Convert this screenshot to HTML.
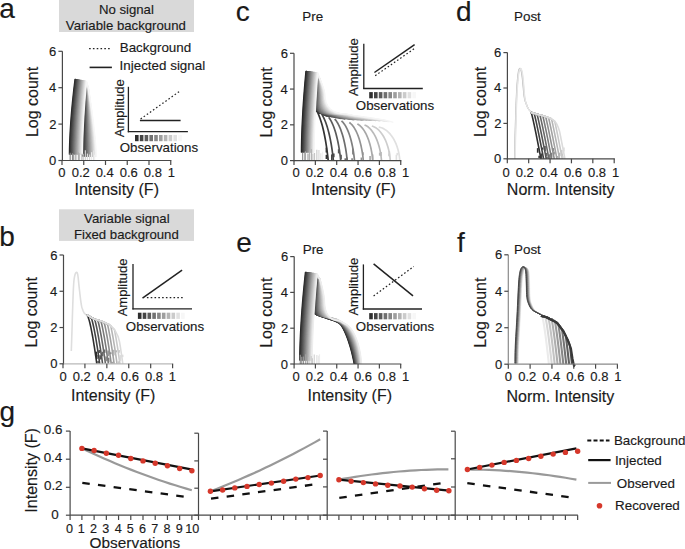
<!DOCTYPE html><html><head><meta charset="utf-8"><style>html,body{margin:0;padding:0;background:#fff;overflow:hidden}svg{display:block}</style></head><body><svg width="685" height="549" viewBox="0 0 685 549" font-family='"Liberation Sans", sans-serif'>
<rect width="685" height="549" fill="#fff"/>
<style>text{stroke:#1a1a1a;stroke-width:0.15px;paint-order:stroke}</style>
<text x="-0.72" y="18.00" font-size="28" text-anchor="start" fill="#1a1a1a">a</text>
<text x="-0.72" y="245.80" font-size="28" text-anchor="start" fill="#1a1a1a">b</text>
<text x="235.68" y="20.70" font-size="28" text-anchor="start" fill="#1a1a1a">c</text>
<text x="455.98" y="20.60" font-size="28" text-anchor="start" fill="#1a1a1a">d</text>
<text x="236.28" y="251.60" font-size="28" text-anchor="start" fill="#1a1a1a">e</text>
<text x="456.98" y="251.90" font-size="28" text-anchor="start" fill="#1a1a1a">f</text>
<text x="-0.42" y="420.80" font-size="28" text-anchor="start" fill="#1a1a1a">g</text>
<rect x="59" y="0" width="135" height="32" fill="#d9d9d9"/>
<text x="98.91" y="13.60" font-size="13.2" text-anchor="start" fill="#1a1a1a">No signal</text>
<text x="65.84" y="29.60" font-size="13.2" text-anchor="start" fill="#1a1a1a">Variable background</text>
<polyline points="69.40,154.50 69.46,149.14 69.60,143.77 69.81,138.41 70.07,133.04 70.37,127.68 70.73,122.31 71.12,116.95 71.56,111.59 72.04,106.22 72.56,100.86 73.12,95.49 73.71,90.13 74.34,84.76 75.00,79.40 86.20,87.14 85.80,92.47 85.43,97.81 85.06,103.14 84.71,108.48 84.37,113.81 84.05,119.15 83.75,124.49 83.47,129.82 83.21,135.16 82.97,140.49 82.77,145.83 82.60,151.16 82.50,156.50" fill="none" stroke="rgb(38,38,38)" stroke-width="1.3" stroke-linejoin="round"/>
<polyline points="69.92,154.50 69.99,149.14 70.13,143.78 70.33,138.42 70.58,133.07 70.89,127.71 71.24,122.35 71.63,116.99 72.06,111.63 72.54,106.27 73.05,100.91 73.60,95.56 74.19,90.20 74.81,84.84 75.46,79.48 86.29,87.17 85.94,92.51 85.61,97.84 85.29,103.18 84.99,108.51 84.69,113.85 84.41,119.18 84.15,124.51 83.90,129.85 83.68,135.18 83.47,140.52 83.29,145.85 83.15,151.19 83.06,156.52" fill="none" stroke="rgb(47,47,47)" stroke-width="1.3" stroke-linejoin="round"/>
<polyline points="70.45,154.50 70.51,149.15 70.65,143.79 70.85,138.44 71.10,133.09 71.40,127.74 71.75,122.38 72.13,117.03 72.56,111.68 73.03,106.32 73.54,100.97 74.08,95.62 74.66,90.27 75.28,84.91 75.93,79.56 86.38,87.21 86.08,92.55 85.80,97.88 85.53,103.21 85.26,108.54 85.01,113.88 84.77,119.21 84.55,124.54 84.34,129.88 84.14,135.21 83.97,140.54 83.81,145.87 83.69,151.21 83.61,156.54" fill="none" stroke="rgb(55,55,55)" stroke-width="1.3" stroke-linejoin="round"/>
<polyline points="70.97,154.50 71.03,149.15 71.17,143.81 71.37,138.46 71.62,133.11 71.91,127.76 72.26,122.42 72.64,117.07 73.07,111.72 73.53,106.38 74.03,101.03 74.57,95.68 75.14,90.33 75.75,84.99 76.39,79.64 86.47,87.25 86.22,92.58 85.99,97.91 85.76,103.25 85.54,108.58 85.33,113.91 85.14,119.24 84.95,124.57 84.77,129.90 84.61,135.23 84.46,140.57 84.34,145.90 84.23,151.23 84.17,156.56" fill="none" stroke="rgb(63,63,63)" stroke-width="1.3" stroke-linejoin="round"/>
<polyline points="71.50,154.50 71.56,149.16 71.69,143.82 71.89,138.48 72.13,133.13 72.43,127.79 72.77,122.45 73.15,117.11 73.57,111.77 74.03,106.43 74.52,101.09 75.05,95.74 75.62,90.40 76.22,85.06 76.86,79.72 86.56,87.29 86.36,92.62 86.18,97.95 86.00,103.28 85.82,108.61 85.65,113.94 85.50,119.27 85.35,124.60 85.21,129.93 85.08,135.26 84.96,140.59 84.86,145.92 84.77,151.25 84.72,156.58" fill="none" stroke="rgb(72,72,72)" stroke-width="1.3" stroke-linejoin="round"/>
<polyline points="72.02,154.50 72.08,149.16 72.21,143.83 72.41,138.49 72.65,133.16 72.94,127.82 73.28,122.49 73.65,117.15 74.07,111.81 74.52,106.48 75.01,101.14 75.54,95.81 76.10,90.47 76.69,85.14 77.32,79.80 86.65,87.33 86.50,92.66 86.36,97.99 86.23,103.31 86.10,108.64 85.97,113.97 85.86,119.30 85.74,124.63 85.64,129.96 85.54,135.29 85.46,140.61 85.38,145.94 85.32,151.27 85.28,156.60" fill="none" stroke="rgb(80,80,80)" stroke-width="1.3" stroke-linejoin="round"/>
<polyline points="72.54,154.50 72.60,149.17 72.74,143.84 72.93,138.51 73.17,133.18 73.45,127.85 73.78,122.52 74.16,117.19 74.57,111.86 75.02,106.53 75.50,101.20 76.02,95.87 76.58,90.54 77.16,85.21 77.78,79.88 86.74,87.37 86.65,92.69 86.55,98.02 86.46,103.35 86.38,108.68 86.29,114.00 86.22,119.33 86.14,124.66 86.07,129.98 86.01,135.31 85.95,140.64 85.90,145.97 85.86,151.29 85.84,156.62" fill="none" stroke="rgb(88,88,88)" stroke-width="1.3" stroke-linejoin="round"/>
<polyline points="73.07,154.50 73.13,149.18 73.26,143.85 73.45,138.53 73.68,133.20 73.97,127.88 74.29,122.55 74.66,117.23 75.07,111.91 75.51,106.58 75.99,101.26 76.51,95.93 77.05,90.61 77.63,85.28 78.25,79.96 86.83,87.41 86.79,92.73 86.74,98.06 86.70,103.38 86.65,108.71 86.61,114.03 86.58,119.36 86.54,124.69 86.51,130.01 86.48,135.34 86.45,140.66 86.42,145.99 86.40,151.31 86.39,156.64" fill="none" stroke="rgb(97,97,97)" stroke-width="1.3" stroke-linejoin="round"/>
<polyline points="73.59,154.50 73.65,149.18 73.78,143.86 73.97,138.54 74.20,133.23 74.48,127.91 74.80,122.59 75.17,117.27 75.57,111.95 76.01,106.63 76.48,101.31 76.99,96.00 77.53,90.68 78.11,85.36 78.71,80.04 86.92,87.44 86.93,92.77 86.93,98.09 86.93,103.42 86.93,108.74 86.94,114.07 86.94,119.39 86.94,124.71 86.94,130.04 86.94,135.36 86.94,140.69 86.95,146.01 86.95,151.34 86.95,156.66" fill="none" stroke="rgb(105,105,105)" stroke-width="1.3" stroke-linejoin="round"/>
<polyline points="74.12,154.50 74.17,149.19 74.30,143.87 74.48,138.56 74.72,133.25 74.99,127.94 75.31,122.62 75.67,117.31 76.07,112.00 76.50,106.68 76.97,101.37 77.47,96.06 78.01,90.75 78.58,85.43 79.18,80.12 87.01,87.48 87.07,92.81 87.12,98.13 87.16,103.45 87.21,108.77 87.26,114.10 87.30,119.42 87.34,124.74 87.38,130.07 87.41,135.39 87.44,140.71 87.47,146.03 87.49,151.36 87.50,156.68" fill="none" stroke="rgb(114,114,114)" stroke-width="1.3" stroke-linejoin="round"/>
<polyline points="74.64,154.50 74.70,149.19 74.82,143.89 75.00,138.58 75.23,133.27 75.51,127.96 75.82,122.66 76.18,117.35 76.57,112.04 77.00,106.74 77.46,101.43 77.96,96.12 78.49,90.81 79.05,85.51 79.64,80.20 87.10,87.52 87.21,92.84 87.30,98.16 87.40,103.49 87.49,108.81 87.58,114.13 87.66,119.45 87.74,124.77 87.81,130.09 87.88,135.41 87.94,140.74 87.99,146.06 88.03,151.38 88.06,156.70" fill="none" stroke="rgb(122,122,122)" stroke-width="1.3" stroke-linejoin="round"/>
<polyline points="75.16,154.50 75.22,149.20 75.34,143.90 75.52,138.60 75.75,133.29 76.02,127.99 76.33,122.69 76.68,117.39 77.07,112.09 77.49,106.79 77.95,101.49 78.44,96.18 78.97,90.88 79.52,85.58 80.10,80.28 87.20,87.56 87.35,92.88 87.49,98.20 87.63,103.52 87.77,108.84 87.90,114.16 88.02,119.48 88.13,124.80 88.24,130.12 88.34,135.44 88.43,140.76 88.51,146.08 88.58,151.40 88.62,156.72" fill="none" stroke="rgb(130,130,130)" stroke-width="1.3" stroke-linejoin="round"/>
<polyline points="75.69,154.50 75.74,149.20 75.87,143.91 76.04,138.61 76.27,133.32 76.54,128.02 76.84,122.73 77.19,117.43 77.57,112.13 77.99,106.84 78.44,101.54 78.93,96.25 79.44,90.95 79.99,85.66 80.57,80.36 87.29,87.60 87.49,92.92 87.68,98.24 87.87,103.55 88.05,108.87 88.22,114.19 88.38,119.51 88.53,124.83 88.68,130.15 88.81,135.47 88.93,140.78 89.03,146.10 89.12,151.42 89.17,156.74" fill="none" stroke="rgb(139,139,139)" stroke-width="1.3" stroke-linejoin="round"/>
<polyline points="76.21,154.50 76.27,149.21 76.39,143.92 76.56,138.63 76.78,133.34 77.05,128.05 77.35,122.76 77.70,117.47 78.07,112.18 78.49,106.89 78.93,101.60 79.41,96.31 79.92,91.02 80.46,85.73 81.03,80.44 87.38,87.64 87.63,92.95 87.87,98.27 88.10,103.59 88.32,108.91 88.54,114.22 88.74,119.54 88.93,124.86 89.11,130.17 89.28,135.49 89.43,140.81 89.56,146.13 89.66,151.44 89.73,156.76" fill="none" stroke="rgb(147,147,147)" stroke-width="1.3" stroke-linejoin="round"/>
<polyline points="76.74,154.50 76.79,149.22 76.91,143.93 77.08,138.65 77.30,133.36 77.56,128.08 77.86,122.79 78.20,117.51 78.57,112.23 78.98,106.94 79.42,101.66 79.90,96.37 80.40,91.09 80.93,85.80 81.50,80.52 87.47,87.68 87.77,92.99 88.06,98.31 88.33,103.62 88.60,108.94 88.86,114.25 89.10,119.57 89.33,124.89 89.54,130.20 89.74,135.52 89.92,140.83 90.08,146.15 90.21,151.46 90.28,156.78" fill="none" stroke="rgb(155,155,155)" stroke-width="1.3" stroke-linejoin="round"/>
<polyline points="77.26,154.50 77.31,149.22 77.43,143.94 77.60,138.66 77.82,133.39 78.08,128.11 78.37,122.83 78.71,117.55 79.08,112.27 79.48,106.99 79.91,101.71 80.38,96.44 80.88,91.16 81.40,85.88 81.96,80.60 87.56,87.71 87.91,93.03 88.24,98.34 88.57,103.66 88.88,108.97 89.18,114.29 89.46,119.60 89.73,124.91 89.98,130.23 90.21,135.54 90.42,140.86 90.60,146.17 90.75,151.49 90.84,156.80" fill="none" stroke="rgb(164,164,164)" stroke-width="1.3" stroke-linejoin="round"/>
<polyline points="77.78,154.50 77.84,149.23 77.95,143.95 78.12,138.68 78.34,133.41 78.59,128.14 78.88,122.86 79.21,117.59 79.58,112.32 79.97,107.04 80.40,101.77 80.86,96.50 81.35,91.23 81.87,85.95 82.42,80.68 87.65,87.75 88.05,93.07 88.43,98.38 88.80,103.69 89.16,109.00 89.50,114.32 89.82,119.63 90.13,124.94 90.41,130.26 90.68,135.57 90.92,140.88 91.12,146.19 91.29,151.51 91.40,156.82" fill="none" stroke="rgb(172,172,172)" stroke-width="1.3" stroke-linejoin="round"/>
<polyline points="78.31,154.50 78.36,149.23 78.48,143.97 78.64,138.70 78.85,133.43 79.10,128.16 79.39,122.90 79.72,117.63 80.08,112.36 80.47,107.10 80.89,101.83 81.35,96.56 81.83,91.29 82.35,86.03 82.89,80.76 87.74,87.79 88.19,93.10 88.62,98.41 89.04,103.73 89.44,109.04 89.82,114.35 90.18,119.66 90.53,124.97 90.85,130.28 91.14,135.59 91.41,140.91 91.65,146.22 91.84,151.53 91.95,156.84" fill="none" stroke="rgb(180,180,180)" stroke-width="1.3" stroke-linejoin="round"/>
<polyline points="78.83,154.50 78.88,149.24 79.00,143.98 79.16,138.72 79.37,133.45 79.62,128.19 79.90,122.93 80.22,117.67 80.58,112.41 80.96,107.15 81.38,101.89 81.83,96.62 82.31,91.36 82.82,86.10 83.35,80.84 87.83,87.83 88.33,93.14 88.81,98.45 89.27,103.76 89.71,109.07 90.14,114.38 90.54,119.69 90.92,125.00 91.28,130.31 91.61,135.62 91.91,140.93 92.17,146.24 92.38,151.55 92.51,156.86" fill="none" stroke="rgb(189,189,189)" stroke-width="1.3" stroke-linejoin="round"/>
<polyline points="79.36,154.50 79.41,149.24 79.52,143.99 79.68,138.73 79.89,133.48 80.13,128.22 80.41,122.97 80.73,117.71 81.08,112.45 81.46,107.20 81.87,101.94 82.32,96.69 82.79,91.43 83.29,86.18 83.82,80.92 87.92,87.87 88.47,93.18 88.99,98.49 89.50,103.79 89.99,109.10 90.46,114.41 90.90,119.72 91.32,125.03 91.71,130.34 92.08,135.65 92.40,140.95 92.69,146.26 92.92,151.57 93.06,156.88" fill="none" stroke="rgb(197,197,197)" stroke-width="1.3" stroke-linejoin="round"/>
<polyline points="79.88,154.50 79.93,149.25 80.04,144.00 80.20,138.75 80.40,133.50 80.64,128.25 80.92,123.00 81.23,117.75 81.58,112.50 81.96,107.25 82.36,102.00 82.80,96.75 83.27,91.50 83.76,86.25 84.28,81.00 88.01,87.91 88.61,93.21 89.18,98.52 89.74,103.83 90.27,109.14 90.78,114.44 91.26,119.75 91.72,125.06 92.15,130.36 92.54,135.67 92.90,140.98 93.21,146.29 93.47,151.59 93.62,156.90" fill="none" stroke="rgb(206,206,206)" stroke-width="1.3" stroke-linejoin="round"/>
<polyline points="80.40,154.50 80.45,149.26 80.56,144.01 80.72,138.77 80.92,133.52 81.16,128.28 81.43,123.03 81.74,117.79 82.08,112.55 82.45,107.30 82.85,102.06 83.28,96.81 83.74,91.57 84.23,86.32 84.74,81.08 88.10,87.95 88.75,93.25 89.37,98.56 89.97,103.86 90.55,109.17 91.10,114.47 91.62,119.78 92.12,125.09 92.58,130.39 93.01,135.70 93.40,141.00 93.73,146.31 94.01,151.61 94.18,156.92" fill="none" stroke="rgb(214,214,214)" stroke-width="1.3" stroke-linejoin="round"/>
<polyline points="80.93,154.50 80.98,149.26 81.08,144.02 81.24,138.78 81.44,133.55 81.67,128.31 81.94,123.07 82.25,117.83 82.58,112.59 82.95,107.35 83.34,102.11 83.77,96.88 84.22,91.64 84.70,86.40 85.21,81.16 88.19,87.98 88.89,93.29 89.56,98.59 90.20,103.90 90.83,109.20 91.42,114.51 91.98,119.81 92.52,125.11 93.02,130.42 93.48,135.72 93.89,141.03 94.26,146.33 94.55,151.64 94.73,156.94" fill="none" stroke="rgb(222,222,222)" stroke-width="1.3" stroke-linejoin="round"/>
<polyline points="81.45,154.50 81.50,149.27 81.61,144.03 81.76,138.80 81.95,133.57 82.19,128.34 82.45,123.10 82.75,117.87 83.08,112.64 83.44,107.40 83.83,102.17 84.25,96.94 84.70,91.71 85.17,86.47 85.67,81.24 88.29,88.02 89.03,93.33 89.75,98.63 90.44,103.93 91.10,109.23 91.74,114.54 92.34,119.84 92.92,125.14 93.45,130.45 93.94,135.75 94.39,141.05 94.78,146.35 95.09,151.66 95.29,156.96" fill="none" stroke="rgb(231,231,231)" stroke-width="1.3" stroke-linejoin="round"/>
<polyline points="81.98,154.50 82.02,149.27 82.13,144.05 82.28,138.82 82.47,133.59 82.70,128.36 82.96,123.14 83.26,117.91 83.58,112.68 83.94,107.46 84.32,102.23 84.74,97.00 85.18,91.77 85.64,86.55 86.14,81.32 88.38,88.06 89.17,93.36 89.93,98.66 90.67,103.97 91.38,109.27 92.06,114.57 92.70,119.87 93.31,125.17 93.88,130.47 94.41,135.77 94.89,141.08 95.30,146.38 95.64,151.68 95.84,156.98" fill="none" stroke="rgb(239,239,239)" stroke-width="1.3" stroke-linejoin="round"/>
<polyline points="82.50,154.50 82.55,149.28 82.65,144.06 82.80,138.84 82.99,133.61 83.21,128.39 83.47,123.17 83.76,117.95 84.08,112.73 84.43,107.51 84.81,102.29 85.22,97.06 85.65,91.84 86.11,86.62 86.60,81.40 88.47,88.10 89.31,93.40 90.12,98.70 90.91,104.00 91.66,109.30 92.38,114.60 93.07,119.90 93.71,125.20 94.32,130.50 94.88,135.80 95.38,141.10 95.82,146.40 96.18,151.70 96.40,157.00" fill="none" stroke="rgb(247,247,247)" stroke-width="1.3" stroke-linejoin="round"/>
<line x1="70.19" y1="152.72" x2="70.19" y2="160.50" stroke="rgb(140,140,140)" stroke-width="1.2"/>
<line x1="72.51" y1="153.13" x2="72.51" y2="160.50" stroke="rgb(140,140,140)" stroke-width="1.2"/>
<line x1="73.69" y1="154.19" x2="73.69" y2="160.50" stroke="rgb(151,151,151)" stroke-width="1.2"/>
<line x1="75.84" y1="154.98" x2="75.84" y2="160.50" stroke="rgb(163,163,163)" stroke-width="1.2"/>
<line x1="78.44" y1="152.38" x2="78.44" y2="160.50" stroke="rgb(174,174,174)" stroke-width="1.2"/>
<line x1="79.50" y1="153.17" x2="79.50" y2="160.50" stroke="rgb(187,187,187)" stroke-width="1.2"/>
<line x1="81.84" y1="153.71" x2="81.84" y2="160.50" stroke="rgb(191,191,191)" stroke-width="1.2"/>
<line x1="83.17" y1="153.79" x2="83.17" y2="160.50" stroke="rgb(197,197,197)" stroke-width="1.2"/>
<line x1="85.34" y1="150.16" x2="85.34" y2="160.50" stroke="rgb(210,210,210)" stroke-width="1.2"/>
<line x1="87.43" y1="153.59" x2="87.43" y2="160.50" stroke="rgb(219,219,219)" stroke-width="1.2"/>
<line x1="89.60" y1="154.61" x2="89.60" y2="160.50" stroke="rgb(217,217,217)" stroke-width="1.2"/>
<line x1="91.59" y1="152.22" x2="91.59" y2="160.50" stroke="rgb(235,235,235)" stroke-width="1.2"/>
<line x1="93.57" y1="150.49" x2="93.57" y2="160.50" stroke="rgb(227,227,227)" stroke-width="1.2"/>
<line x1="94.66" y1="154.83" x2="94.66" y2="160.50" stroke="rgb(241,241,241)" stroke-width="1.2"/>
<line x1="62.40" y1="51.30" x2="62.40" y2="161.10" stroke="#484848" stroke-width="1.2"/>
<line x1="62.40" y1="160.50" x2="171.35" y2="160.50" stroke="#484848" stroke-width="1.2"/>
<line x1="58.40" y1="51.30" x2="62.40" y2="51.30" stroke="#484848" stroke-width="1.2"/>
<text x="49.10" y="55.85" font-size="13" text-anchor="start" fill="#1a1a1a">6</text>
<line x1="58.40" y1="87.70" x2="62.40" y2="87.70" stroke="#484848" stroke-width="1.2"/>
<text x="48.97" y="92.18" font-size="13" text-anchor="start" fill="#1a1a1a">4</text>
<line x1="58.40" y1="124.10" x2="62.40" y2="124.10" stroke="#484848" stroke-width="1.2"/>
<text x="49.23" y="128.65" font-size="13" text-anchor="start" fill="#1a1a1a">2</text>
<line x1="58.40" y1="160.50" x2="62.40" y2="160.50" stroke="#484848" stroke-width="1.2"/>
<text x="49.04" y="165.05" font-size="13" text-anchor="start" fill="#1a1a1a">0</text>
<line x1="62.00" y1="160.50" x2="62.00" y2="165.00" stroke="#484848" stroke-width="1.2"/>
<line x1="83.75" y1="160.50" x2="83.75" y2="165.00" stroke="#484848" stroke-width="1.2"/>
<line x1="105.50" y1="160.50" x2="105.50" y2="165.00" stroke="#484848" stroke-width="1.2"/>
<line x1="127.25" y1="160.50" x2="127.25" y2="165.00" stroke="#484848" stroke-width="1.2"/>
<line x1="149.00" y1="160.50" x2="149.00" y2="165.00" stroke="#484848" stroke-width="1.2"/>
<line x1="170.75" y1="160.50" x2="170.75" y2="165.00" stroke="#484848" stroke-width="1.2"/>
<text x="58.36" y="177.00" font-size="13" text-anchor="start" fill="#1a1a1a">0</text>
<text x="71.69" y="177.00" font-size="13" text-anchor="start" fill="#1a1a1a">0.2</text>
<text x="95.65" y="177.00" font-size="13" text-anchor="start" fill="#1a1a1a">0.4</text>
<text x="119.79" y="177.00" font-size="13" text-anchor="start" fill="#1a1a1a">0.6</text>
<text x="143.87" y="177.00" font-size="13" text-anchor="start" fill="#1a1a1a">0.8</text>
<text x="167.78" y="177.00" font-size="13" text-anchor="start" fill="#1a1a1a">1</text>
<text x="74.51" y="195.00" font-size="16" text-anchor="start" fill="#1a1a1a">Intensity (F)</text>
<text x="0" y="0" font-size="16" fill="#1a1a1a" transform="translate(37.90 137.12) rotate(-90)">Log count</text>
<line x1="89.10" y1="48.70" x2="110.70" y2="48.70" stroke="#222" stroke-width="1.2" stroke-dasharray="1.6 2.2"/>
<line x1="89.60" y1="67.40" x2="111.90" y2="67.40" stroke="#222" stroke-width="1.6"/>
<text x="119.73" y="52.00" font-size="13.4" text-anchor="start" fill="#1a1a1a">Background</text>
<text x="119.59" y="69.70" font-size="13.4" text-anchor="start" fill="#1a1a1a">Injected signal</text>
<line x1="128.40" y1="86.80" x2="128.40" y2="132.30" stroke="#222" stroke-width="1.3"/>
<line x1="127.80" y1="131.70" x2="187.90" y2="131.70" stroke="#222" stroke-width="1.3"/>
<line x1="139.90" y1="120.50" x2="180.60" y2="120.50" stroke="#222" stroke-width="1.5"/>
<line x1="140.60" y1="119.00" x2="179.20" y2="91.60" stroke="#222" stroke-width="1.2" stroke-dasharray="1.6 2.2"/>
<rect x="135.00" y="135.00" width="3.6" height="6.2" fill="rgb(46,46,46)"/>
<rect x="139.80" y="135.00" width="3.6" height="6.2" fill="rgb(68,68,68)"/>
<rect x="144.60" y="135.00" width="3.6" height="6.2" fill="rgb(91,91,91)"/>
<rect x="149.40" y="135.00" width="3.6" height="6.2" fill="rgb(113,113,113)"/>
<rect x="154.20" y="135.00" width="3.6" height="6.2" fill="rgb(135,135,135)"/>
<rect x="159.00" y="135.00" width="3.6" height="6.2" fill="rgb(158,158,158)"/>
<rect x="163.80" y="135.00" width="3.6" height="6.2" fill="rgb(180,180,180)"/>
<rect x="168.60" y="135.00" width="3.6" height="6.2" fill="rgb(203,203,203)"/>
<rect x="173.40" y="135.00" width="3.6" height="6.2" fill="rgb(225,225,225)"/>
<rect x="178.20" y="135.00" width="3.6" height="6.2" fill="rgb(247,247,247)"/>
<text x="119.70" y="152.30" font-size="13.3" text-anchor="start" fill="#1a1a1a">Observations</text>
<text x="0" y="0" font-size="13" fill="#1a1a1a" transform="translate(124.00 137.20) rotate(-90)">Amplitude</text>
<rect x="59" y="209.3" width="135" height="31.6" fill="#d9d9d9"/>
<text x="84.09" y="223.30" font-size="13.2" text-anchor="start" fill="#1a1a1a">Variable signal</text>
<text x="73.93" y="238.60" font-size="13.2" text-anchor="start" fill="#1a1a1a">Fixed background</text>
<polyline points="71.30,351.00 71.38,348.70 71.49,345.52 71.61,341.75 71.75,337.70 71.88,333.69 72.00,330.00 72.10,326.67 72.19,323.44 72.28,320.25 72.37,317.00 72.48,313.61 72.60,310.00 72.74,305.94 72.90,301.46 73.06,296.84 73.24,292.37 73.42,288.33 73.60,285.00 73.78,282.45 73.97,280.45 74.16,278.88 74.36,277.62 74.57,276.53 74.80,275.50 75.05,274.55 75.31,273.78 75.59,273.19 75.87,272.77 76.14,272.51 76.40,272.40 76.64,272.37 76.88,272.43 77.11,272.65 77.33,273.10 77.56,273.86 77.80,275.00 78.04,276.62 78.28,278.69 78.52,281.06 78.77,283.60 79.03,286.20 79.30,288.70 79.60,291.27 79.91,294.03 80.24,296.83 80.57,299.53 80.90,301.97 81.20,304.00 81.48,305.57 81.75,306.79 82.01,307.74 82.26,308.54 82.53,309.26 82.80,310.00 83.08,310.73 83.36,311.37 83.64,311.94 83.93,312.46 84.25,312.94 84.60,313.40 85.02,313.85 85.50,314.27 86.01,314.66 86.50,315.00 86.91,315.29 87.20,315.50" fill="none" stroke="#dedede" stroke-width="1.6" stroke-linejoin="round"/>
<polyline points="86.60,314.80 87.80,316.22 88.28,317.44 88.68,318.66 89.05,319.88 89.38,321.10 89.70,322.32 90.00,323.54 90.28,324.76 90.55,325.98 90.82,327.20 91.07,328.42 91.32,329.64 91.56,330.86 91.80,332.08 92.03,333.30 92.26,334.52 92.48,335.74 92.69,336.96 92.91,338.18 93.12,339.40 93.32,340.62 93.53,341.84 93.73,343.06 93.92,344.28 94.12,345.50 94.31,346.72 94.50,347.94 94.69,349.16 94.88,350.38 95.06,351.60 95.24,352.82 95.42,354.04 95.60,355.26 95.77,356.48 95.95,357.70 96.12,358.92 96.29,360.14 96.46,361.36 96.63,362.58 96.80,363.80" fill="none" stroke="rgb(46,46,46)" stroke-width="1.6" stroke-linejoin="round"/>
<line x1="96.78" y1="355.12" x2="96.78" y2="358.93" stroke="rgb(46,46,46)" stroke-width="1.6904219052340446"/>
<line x1="96.27" y1="351.66" x2="96.27" y2="356.18" stroke="rgb(46,46,46)" stroke-width="1.6606288988095774"/>
<polyline points="86.60,314.80 88.10,315.68 89.60,316.55 91.57,318.66 91.94,319.88 92.27,321.10 92.59,322.32 92.88,323.54 93.17,324.76 93.44,325.98 93.71,327.20 93.96,328.42 94.21,329.64 94.45,330.86 94.69,332.08 94.92,333.30 95.14,334.52 95.37,335.74 95.58,336.96 95.80,338.18 96.01,339.40 96.21,340.62 96.42,341.84 96.62,343.06 96.81,344.28 97.01,345.50 97.20,346.72 97.39,347.94 97.58,349.16 97.76,350.38 97.95,351.60 98.13,352.82 98.31,354.04 98.49,355.26 98.66,356.48 98.84,357.70 99.01,358.92 99.18,360.14 99.35,361.36 99.52,362.58 99.69,363.80" fill="none" stroke="rgb(65,65,65)" stroke-width="1.6" stroke-linejoin="round"/>
<line x1="98.97" y1="350.40" x2="98.97" y2="352.97" stroke="rgb(65,65,65)" stroke-width="1.5385728841172859"/>
<line x1="98.09" y1="360.89" x2="98.09" y2="363.80" stroke="rgb(65,65,65)" stroke-width="1.470156788699953"/>
<polyline points="86.60,314.80 88.10,315.68 89.60,316.55 91.10,317.43 92.60,318.31 94.10,318.92 94.83,319.88 95.16,321.10 95.48,322.32 95.77,323.54 96.06,324.76 96.33,325.98 96.60,327.20 96.85,328.42 97.10,329.64 97.34,330.86 97.58,332.08 97.81,333.30 98.03,334.52 98.25,335.74 98.47,336.96 98.68,338.18 98.89,339.40 99.10,340.62 99.30,341.84 99.50,343.06 99.70,344.28 99.90,345.50 100.09,346.72 100.28,347.94 100.47,349.16 100.65,350.38 100.84,351.60 101.02,352.82 101.20,354.04 101.38,355.26 101.55,356.48 101.73,357.70 101.90,358.92 102.07,360.14 102.24,361.36 102.41,362.58 102.58,363.80" fill="none" stroke="rgb(84,84,84)" stroke-width="1.6" stroke-linejoin="round"/>
<line x1="100.16" y1="355.13" x2="100.16" y2="359.62" stroke="rgb(84,84,84)" stroke-width="1.6792167801679896"/>
<line x1="99.39" y1="349.99" x2="99.39" y2="352.75" stroke="rgb(84,84,84)" stroke-width="1.3961326465593034"/>
<polyline points="86.60,314.80 88.10,315.68 89.60,316.55 91.10,317.43 92.60,318.31 94.10,318.92 95.60,319.40 97.10,319.89 98.05,321.10 98.36,322.32 98.66,323.54 98.95,324.76 99.22,325.98 99.48,327.20 99.74,328.42 99.99,329.64 100.23,330.86 100.47,332.08 100.70,333.30 100.92,334.52 101.14,335.74 101.36,336.96 101.57,338.18 101.78,339.40 101.99,340.62 102.19,341.84 102.39,343.06 102.59,344.28 102.79,345.50 102.98,346.72 103.17,347.94 103.36,349.16 103.54,350.38 103.73,351.60 103.91,352.82 104.09,354.04 104.27,355.26 104.44,356.48 104.62,357.70 104.79,358.92 104.96,360.14 105.13,361.36 105.30,362.58 105.47,363.80" fill="none" stroke="rgb(104,104,104)" stroke-width="1.6" stroke-linejoin="round"/>
<line x1="104.62" y1="349.56" x2="104.62" y2="352.86" stroke="rgb(104,104,104)" stroke-width="1.5636605328646678"/>
<line x1="102.55" y1="351.73" x2="102.55" y2="356.29" stroke="rgb(104,104,104)" stroke-width="1.51989111305926"/>
<polyline points="86.60,314.80 88.10,315.68 89.60,316.55 91.10,317.43 92.60,318.31 94.10,318.92 95.60,319.40 97.10,319.89 98.60,320.37 100.10,320.85 101.25,322.32 101.55,323.54 101.84,324.76 102.11,325.98 102.37,327.20 102.63,328.42 102.88,329.64 103.12,330.86 103.36,332.08 103.59,333.30 103.81,334.52 104.03,335.74 104.25,336.96 104.46,338.18 104.67,339.40 104.88,340.62 105.08,341.84 105.28,343.06 105.48,344.28 105.67,345.50 105.87,346.72 106.06,347.94 106.24,349.16 106.43,350.38 106.61,351.60 106.80,352.82 106.98,354.04 107.15,355.26 107.33,356.48 107.50,357.70 107.68,358.92 107.85,360.14 108.02,361.36 108.19,362.58 108.36,363.80" fill="none" stroke="rgb(123,123,123)" stroke-width="1.6" stroke-linejoin="round"/>
<line x1="108.73" y1="357.89" x2="108.73" y2="362.51" stroke="rgb(123,123,123)" stroke-width="1.475253794184886"/>
<line x1="106.12" y1="356.42" x2="106.12" y2="361.25" stroke="rgb(123,123,123)" stroke-width="1.4313330641674642"/>
<polyline points="86.60,314.80 88.10,315.68 89.60,316.55 91.10,317.43 92.60,318.31 94.10,318.92 95.60,319.40 97.10,319.89 98.60,320.37 100.10,320.85 101.60,321.34 103.10,321.96 104.44,323.54 104.72,324.76 105.00,325.98 105.26,327.20 105.52,328.42 105.77,329.64 106.01,330.86 106.24,332.08 106.47,333.30 106.70,334.52 106.92,335.74 107.14,336.96 107.35,338.18 107.56,339.40 107.77,340.62 107.97,341.84 108.17,343.06 108.37,344.28 108.56,345.50 108.76,346.72 108.95,347.94 109.13,349.16 109.32,350.38 109.50,351.60 109.68,352.82 109.86,354.04 110.04,355.26 110.22,356.48 110.39,357.70 110.57,358.92 110.74,360.14 110.91,361.36 111.08,362.58 111.24,363.80" fill="none" stroke="rgb(142,142,142)" stroke-width="1.6" stroke-linejoin="round"/>
<line x1="110.79" y1="352.19" x2="110.79" y2="354.31" stroke="rgb(142,142,142)" stroke-width="1.550308285115795"/>
<line x1="108.15" y1="350.58" x2="108.15" y2="355.97" stroke="rgb(142,142,142)" stroke-width="1.4655264952188487"/>
<polyline points="86.60,314.80 88.10,315.68 89.60,316.55 91.10,317.43 92.60,318.31 94.10,318.92 95.60,319.40 97.10,319.89 98.60,320.37 100.10,320.85 101.60,321.34 103.10,321.96 104.60,322.60 106.10,323.24 107.61,324.76 107.89,325.98 108.15,327.20 108.41,328.42 108.66,329.64 108.90,330.86 109.13,332.08 109.36,333.30 109.59,334.52 109.81,335.74 110.03,336.96 110.24,338.18 110.45,339.40 110.66,340.62 110.86,341.84 111.06,343.06 111.26,344.28 111.45,345.50 111.64,346.72 111.83,347.94 112.02,349.16 112.21,350.38 112.39,351.60 112.57,352.82 112.75,354.04 112.93,355.26 113.11,356.48 113.28,357.70 113.46,358.92 113.63,360.14 113.80,361.36 113.97,362.58 114.13,363.80" fill="none" stroke="rgb(162,162,162)" stroke-width="1.6" stroke-linejoin="round"/>
<line x1="112.66" y1="361.78" x2="112.66" y2="363.80" stroke="rgb(162,162,162)" stroke-width="1.7249802312026212"/>
<line x1="113.33" y1="349.85" x2="113.33" y2="355.77" stroke="rgb(162,162,162)" stroke-width="1.4707637062780552"/>
<polyline points="86.60,314.80 88.10,315.68 89.60,316.55 91.10,317.43 92.60,318.31 94.10,318.92 95.60,319.40 97.10,319.89 98.60,320.37 100.10,320.85 101.60,321.34 103.10,321.96 104.60,322.60 106.10,323.24 107.60,323.89 109.10,324.53 110.78,325.98 111.04,327.20 111.30,328.42 111.54,329.64 111.79,330.86 112.02,332.08 112.25,333.30 112.48,334.52 112.70,335.74 112.92,336.96 113.13,338.18 113.34,339.40 113.55,340.62 113.75,341.84 113.95,343.06 114.15,344.28 114.34,345.50 114.53,346.72 114.72,347.94 114.91,349.16 115.10,350.38 115.28,351.60 115.46,352.82 115.64,354.04 115.82,355.26 116.00,356.48 116.17,357.70 116.34,358.92 116.52,360.14 116.69,361.36 116.85,362.58 117.02,363.80" fill="none" stroke="rgb(181,181,181)" stroke-width="1.6" stroke-linejoin="round"/>
<line x1="113.86" y1="350.12" x2="113.86" y2="355.24" stroke="rgb(181,181,181)" stroke-width="1.4094922816880686"/>
<line x1="116.29" y1="350.31" x2="116.29" y2="352.37" stroke="rgb(181,181,181)" stroke-width="1.4768244412828944"/>
<polyline points="86.60,314.80 88.10,315.68 89.60,316.55 91.10,317.43 92.60,318.31 94.10,318.92 95.60,319.40 97.10,319.89 98.60,320.37 100.10,320.85 101.60,321.34 103.10,321.96 104.60,322.60 106.10,323.24 107.60,323.89 109.10,324.53 110.60,325.80 112.10,327.30 113.60,328.80 114.43,329.64 114.67,330.86 114.91,332.08 115.14,333.30 115.37,334.52 115.59,335.74 115.81,336.96 116.02,338.18 116.23,339.40 116.43,340.62 116.64,341.84 116.84,343.06 117.04,344.28 117.23,345.50 117.42,346.72 117.61,347.94 117.80,349.16 117.99,350.38 118.17,351.60 118.35,352.82 118.53,354.04 118.71,355.26 118.89,356.48 119.06,357.70 119.23,358.92 119.41,360.14 119.58,361.36 119.74,362.58 119.91,363.80" fill="none" stroke="rgb(200,200,200)" stroke-width="1.6" stroke-linejoin="round"/>
<line x1="118.37" y1="361.32" x2="118.37" y2="363.80" stroke="rgb(200,200,200)" stroke-width="1.3285022282992187"/>
<line x1="119.12" y1="349.95" x2="119.12" y2="352.66" stroke="rgb(200,200,200)" stroke-width="1.5484616679729897"/>
<polyline points="86.60,314.80 88.10,315.68 89.60,316.55 91.10,317.43 92.60,318.31 94.10,318.92 95.60,319.40 97.10,319.89 98.60,320.37 100.10,320.85 101.60,321.34 103.10,321.96 104.60,322.60 106.10,323.24 107.60,323.89 109.10,324.53 110.60,325.80 112.10,327.30 113.60,328.80 115.10,330.50 116.60,333.50 118.10,336.50 119.53,341.84 119.73,343.06 119.92,344.28 120.12,345.50 120.31,346.72 120.50,347.94 120.69,349.16 120.88,350.38 121.06,351.60 121.24,352.82 121.42,354.04 121.60,355.26 121.77,356.48 121.95,357.70 122.12,358.92 122.29,360.14 122.46,361.36 122.63,362.58 122.80,363.80" fill="none" stroke="rgb(219,219,219)" stroke-width="1.6" stroke-linejoin="round"/>
<line x1="120.37" y1="355.06" x2="120.37" y2="361.00" stroke="rgb(219,219,219)" stroke-width="1.6493705587302463"/>
<line x1="122.71" y1="354.68" x2="122.71" y2="357.15" stroke="rgb(219,219,219)" stroke-width="1.4819626962782824"/>
<line x1="63.50" y1="255.00" x2="63.50" y2="364.40" stroke="#484848" stroke-width="1.2"/>
<line x1="63.50" y1="363.80" x2="173.20" y2="363.80" stroke="#b8b8b8" stroke-width="1.2"/>
<line x1="59.50" y1="255.00" x2="63.50" y2="255.00" stroke="#484848" stroke-width="1.2"/>
<text x="50.20" y="259.55" font-size="13" text-anchor="start" fill="#1a1a1a">6</text>
<line x1="59.50" y1="291.27" x2="63.50" y2="291.27" stroke="#484848" stroke-width="1.2"/>
<text x="50.07" y="295.75" font-size="13" text-anchor="start" fill="#1a1a1a">4</text>
<line x1="59.50" y1="327.53" x2="63.50" y2="327.53" stroke="#484848" stroke-width="1.2"/>
<text x="50.34" y="332.08" font-size="13" text-anchor="start" fill="#1a1a1a">2</text>
<line x1="59.50" y1="363.80" x2="63.50" y2="363.80" stroke="#484848" stroke-width="1.2"/>
<text x="50.14" y="368.35" font-size="13" text-anchor="start" fill="#1a1a1a">0</text>
<line x1="63.00" y1="363.80" x2="63.00" y2="368.30" stroke="#484848" stroke-width="1.2"/>
<line x1="84.92" y1="363.80" x2="84.92" y2="368.30" stroke="#484848" stroke-width="1.2"/>
<line x1="106.84" y1="363.80" x2="106.84" y2="368.30" stroke="#484848" stroke-width="1.2"/>
<line x1="128.76" y1="363.80" x2="128.76" y2="368.30" stroke="#484848" stroke-width="1.2"/>
<line x1="150.68" y1="363.80" x2="150.68" y2="368.30" stroke="#484848" stroke-width="1.2"/>
<line x1="172.60" y1="363.80" x2="172.60" y2="368.30" stroke="#484848" stroke-width="1.2"/>
<text x="59.41" y="380.90" font-size="13" text-anchor="start" fill="#1a1a1a">0</text>
<text x="72.74" y="380.90" font-size="13" text-anchor="start" fill="#1a1a1a">0.2</text>
<text x="96.70" y="380.90" font-size="13" text-anchor="start" fill="#1a1a1a">0.4</text>
<text x="120.84" y="380.90" font-size="13" text-anchor="start" fill="#1a1a1a">0.6</text>
<text x="144.91" y="380.90" font-size="13" text-anchor="start" fill="#1a1a1a">0.8</text>
<text x="168.83" y="380.90" font-size="13" text-anchor="start" fill="#1a1a1a">1</text>
<text x="70.96" y="400.80" font-size="16" text-anchor="start" fill="#1a1a1a">Intensity (F)</text>
<text x="0" y="0" font-size="16" fill="#1a1a1a" transform="translate(37.20 347.42) rotate(-90)">Log count</text>
<line x1="133.00" y1="264.00" x2="133.00" y2="309.40" stroke="#222" stroke-width="1.3"/>
<line x1="132.40" y1="308.80" x2="192.00" y2="308.80" stroke="#222" stroke-width="1.3"/>
<line x1="142.50" y1="298.10" x2="182.10" y2="270.10" stroke="#222" stroke-width="1.5"/>
<line x1="146.90" y1="297.60" x2="184.60" y2="297.60" stroke="#222" stroke-width="1.2" stroke-dasharray="1.6 2.2"/>
<rect x="137.90" y="312.70" width="3.6" height="6.2" fill="rgb(46,46,46)"/>
<rect x="142.70" y="312.70" width="3.6" height="6.2" fill="rgb(68,68,68)"/>
<rect x="147.50" y="312.70" width="3.6" height="6.2" fill="rgb(91,91,91)"/>
<rect x="152.30" y="312.70" width="3.6" height="6.2" fill="rgb(113,113,113)"/>
<rect x="157.10" y="312.70" width="3.6" height="6.2" fill="rgb(135,135,135)"/>
<rect x="161.90" y="312.70" width="3.6" height="6.2" fill="rgb(158,158,158)"/>
<rect x="166.70" y="312.70" width="3.6" height="6.2" fill="rgb(180,180,180)"/>
<rect x="171.50" y="312.70" width="3.6" height="6.2" fill="rgb(203,203,203)"/>
<rect x="176.30" y="312.70" width="3.6" height="6.2" fill="rgb(225,225,225)"/>
<rect x="181.10" y="312.70" width="3.6" height="6.2" fill="rgb(247,247,247)"/>
<text x="125.80" y="331.20" font-size="13.3" text-anchor="start" fill="#1a1a1a">Observations</text>
<text x="0" y="0" font-size="13" fill="#1a1a1a" transform="translate(127.00 316.30) rotate(-90)">Amplitude</text>
<text x="302.33" y="20.70" font-size="13.4" text-anchor="start" fill="#1a1a1a">Pre</text>
<polyline points="301.40,152.40 301.45,146.61 301.56,140.83 301.73,135.04 301.93,129.26 302.18,123.47 302.47,117.69 302.79,111.90 303.14,106.11 303.52,100.33 303.94,94.54 304.39,88.76 304.86,82.97 305.37,77.19 305.90,71.40 317.46,75.77 317.12,78.34 316.80,80.91 316.49,83.49 316.19,86.06 315.90,88.63 315.63,91.20 315.37,93.77 315.13,96.34 314.91,98.91 314.71,101.49 314.53,104.06 314.39,106.63 314.30,109.20 314.32,109.49 314.39,109.74 314.50,109.95 314.66,110.12 314.86,110.25 315.11,110.35 315.40,110.40 315.74,110.42 317.74,111.96 320.24,113.43" fill="none" stroke="rgb(33,33,33)" stroke-width="1.3" stroke-linejoin="round"/>
<polyline points="301.91,152.40 301.96,146.62 302.07,140.84 302.23,135.06 302.44,129.27 302.68,123.49 302.97,117.71 303.28,111.93 303.63,106.15 304.02,100.37 304.43,94.59 304.87,88.80 305.35,83.02 305.85,77.24 306.38,71.46 317.56,75.91 317.26,78.43 316.97,80.94 316.69,83.45 316.42,85.97 316.16,88.48 315.91,91.00 315.68,93.51 315.47,96.02 315.27,98.54 315.08,101.05 314.93,103.56 314.80,106.08 314.72,108.59 314.76,109.18 314.86,109.69 315.04,110.12 315.28,110.48 315.60,110.75 315.98,110.95 316.44,111.07 316.97,111.11 318.97,112.36 321.47,113.83 323.97,115.31" fill="none" stroke="rgb(42,42,42)" stroke-width="1.3" stroke-linejoin="round"/>
<polyline points="302.42,152.40 302.47,146.62 302.58,140.85 302.74,135.07 302.94,129.29 303.19,123.51 303.47,117.74 303.78,111.96 304.13,106.18 304.51,100.41 304.92,94.63 305.36,88.85 305.83,83.07 306.33,77.30 306.85,71.52 317.67,76.06 317.40,78.51 317.14,80.97 316.89,83.42 316.65,85.88 316.42,88.34 316.20,90.79 316.00,93.25 315.80,95.70 315.63,98.16 315.46,100.62 315.32,103.07 315.21,105.53 315.14,107.98 315.19,108.83 315.33,109.56 315.57,110.18 315.90,110.69 316.33,111.08 316.86,111.36 317.48,111.53 318.19,111.59 320.19,112.76 322.69,114.24 325.19,115.54 327.69,116.29" fill="none" stroke="rgb(50,50,50)" stroke-width="1.3" stroke-linejoin="round"/>
<polyline points="302.92,152.40 302.97,146.63 303.09,140.85 303.25,135.08 303.45,129.31 303.69,123.54 303.97,117.76 304.28,111.99 304.62,106.22 305.00,100.44 305.41,94.67 305.85,88.90 306.31,83.13 306.81,77.35 307.33,71.58 317.77,76.20 317.54,78.60 317.31,80.99 317.09,83.39 316.88,85.79 316.68,88.19 316.49,90.59 316.31,92.99 316.14,95.38 315.99,97.78 315.84,100.18 315.72,102.58 315.62,104.98 315.56,107.38 315.62,108.46 315.80,109.39 316.10,110.19 316.52,110.84 317.07,111.34 317.73,111.70 318.51,111.92 319.42,111.99 321.42,113.17 323.92,114.64 326.42,115.59 328.92,116.34" fill="none" stroke="rgb(59,59,59)" stroke-width="1.3" stroke-linejoin="round"/>
<polyline points="303.43,152.40 303.48,146.63 303.59,140.86 303.75,135.09 303.95,129.33 304.19,123.56 304.47,117.79 304.78,112.02 305.12,106.25 305.49,100.48 305.90,94.71 306.33,88.95 306.80,83.18 307.29,77.41 307.80,71.64 317.88,76.34 317.68,78.68 317.48,81.02 317.30,83.36 317.12,85.70 316.94,88.04 316.78,90.38 316.62,92.72 316.48,95.07 316.34,97.41 316.22,99.75 316.12,102.09 316.03,104.43 315.98,106.77 316.05,108.09 316.27,109.23 316.64,110.19 317.15,110.99 317.80,111.60 318.60,112.04 319.55,112.30 320.65,112.39 322.65,113.57 325.15,114.88 327.65,115.64 330.15,116.39 332.65,117.14" fill="none" stroke="rgb(67,67,67)" stroke-width="1.3" stroke-linejoin="round"/>
<polyline points="303.94,152.40 303.99,146.64 304.10,140.87 304.26,135.11 304.46,129.34 304.69,123.58 304.97,117.81 305.28,112.05 305.62,106.29 305.99,100.52 306.39,94.76 306.82,88.99 307.28,83.23 307.77,77.46 308.28,71.70 317.99,76.48 317.82,78.77 317.66,81.05 317.50,83.33 317.35,85.61 317.20,87.90 317.07,90.18 316.94,92.46 316.82,94.75 316.70,97.03 316.60,99.31 316.52,101.59 316.44,103.88 316.40,106.16 316.49,107.71 316.74,109.06 317.17,110.20 317.77,111.13 318.54,111.86 319.48,112.38 320.59,112.69 321.87,112.79 323.87,113.97 326.37,114.93 328.87,115.69 331.37,116.44 333.87,117.19 336.37,117.95" fill="none" stroke="rgb(75,75,75)" stroke-width="1.3" stroke-linejoin="round"/>
<polyline points="304.45,152.40 304.50,146.64 304.61,140.88 304.76,135.12 304.96,129.36 305.20,123.60 305.47,117.84 305.77,112.08 306.11,106.32 306.48,100.56 306.88,94.80 307.31,89.04 307.76,83.28 308.25,77.52 308.76,71.76 318.09,76.63 317.96,78.85 317.83,81.08 317.70,83.30 317.58,85.53 317.47,87.75 317.36,89.98 317.25,92.20 317.15,94.43 317.06,96.65 316.98,98.88 316.91,101.10 316.86,103.33 316.82,105.55 316.92,107.34 317.21,108.90 317.70,110.21 318.39,111.28 319.27,112.12 320.35,112.72 321.63,113.08 323.10,113.20 325.10,114.23 327.60,114.98 330.10,115.74 332.60,116.49 335.10,117.24 337.60,118.00" fill="none" stroke="rgb(84,84,84)" stroke-width="1.3" stroke-linejoin="round"/>
<polyline points="304.96,152.40 305.00,146.64 305.11,140.89 305.27,135.13 305.46,129.38 305.70,123.62 305.97,117.87 306.27,112.11 306.61,106.35 306.97,100.60 307.37,94.84 307.79,89.09 308.25,83.33 308.73,77.58 309.23,71.82 318.20,76.77 318.10,78.93 318.00,81.10 317.90,83.27 317.81,85.44 317.73,87.60 317.64,89.77 317.56,91.94 317.49,94.11 317.42,96.27 317.36,98.44 317.31,100.61 317.27,102.78 317.24,104.94 317.35,106.97 317.68,108.73 318.24,110.22 319.01,111.43 320.01,112.38 321.23,113.06 322.66,113.46 324.32,113.60 326.32,114.28 328.82,115.03 331.32,115.79 333.82,116.54 336.32,117.29 338.82,118.05 341.32,118.60" fill="none" stroke="rgb(92,92,92)" stroke-width="1.3" stroke-linejoin="round"/>
<polyline points="305.46,152.40 305.51,146.65 305.62,140.90 305.77,135.15 305.97,129.39 306.20,123.64 306.47,117.89 306.77,112.14 307.10,106.39 307.47,100.64 307.86,94.89 308.28,89.13 308.73,83.38 309.21,77.63 309.71,71.88 318.31,76.91 318.24,79.02 318.17,81.13 318.11,83.24 318.05,85.35 317.99,87.46 317.93,89.57 317.88,91.68 317.83,93.79 317.78,95.90 317.74,98.01 317.71,100.12 317.68,102.23 317.66,104.34 317.78,106.54 318.15,108.44 318.77,110.06 319.63,111.38 320.74,112.41 322.10,113.14 323.70,113.58 325.55,113.73 327.55,114.33 330.05,115.08 332.55,115.84 335.05,116.59 337.55,117.34 340.05,118.01 342.55,118.53 345.05,119.04" fill="none" stroke="rgb(101,101,101)" stroke-width="1.3" stroke-linejoin="round"/>
<polyline points="305.97,152.40 306.02,146.65 306.13,140.91 306.28,135.16 306.47,129.41 306.70,123.66 306.97,117.92 307.27,112.17 307.60,106.42 307.96,100.68 308.35,94.93 308.77,89.18 309.21,83.43 309.69,77.69 310.18,71.94 318.41,77.05 318.38,79.10 318.34,81.16 318.31,83.21 318.28,85.26 318.25,87.31 318.22,89.36 318.19,91.42 318.17,93.47 318.14,95.52 318.12,97.57 318.10,99.62 318.09,101.68 318.08,103.73 318.22,106.08 318.62,108.12 319.30,109.85 320.25,111.26 321.48,112.36 322.97,113.15 324.74,113.62 326.78,113.78 328.78,114.38 331.28,115.13 333.78,115.89 336.28,116.64 338.78,117.39 341.28,117.95 343.78,118.46 346.28,118.97" fill="none" stroke="rgb(109,109,109)" stroke-width="1.3" stroke-linejoin="round"/>
<polyline points="306.48,152.40 306.53,146.66 306.63,140.91 306.78,135.17 306.98,129.43 307.21,123.69 307.47,117.94 307.77,112.20 308.09,106.46 308.45,100.71 308.84,94.97 309.25,89.23 309.70,83.49 310.17,77.74 310.66,72.00 318.52,77.19 318.52,79.19 318.51,81.18 318.51,83.18 318.51,85.17 318.51,87.17 318.51,89.16 318.51,91.15 318.50,93.15 318.50,95.14 318.50,97.14 318.50,99.13 318.50,101.13 318.50,103.12 318.65,105.63 319.09,107.80 319.84,109.64 320.88,111.15 322.21,112.32 323.85,113.16 325.78,113.66 328.00,113.83 330.00,114.43 332.50,115.18 335.00,115.94 337.50,116.69 340.00,117.37 342.50,117.88 345.00,118.39 347.50,118.91 350.00,119.42" fill="none" stroke="rgb(118,118,118)" stroke-width="1.3" stroke-linejoin="round"/>
<polyline points="306.99,152.40 307.03,146.66 307.14,140.92 307.29,135.18 307.48,129.45 307.71,123.71 307.97,117.97 308.26,112.23 308.59,106.49 308.95,100.75 309.33,95.01 309.74,89.28 310.18,83.54 310.64,77.80 311.14,72.06 318.62,77.34 318.66,79.27 318.69,81.21 318.72,83.15 318.74,85.08 318.77,87.02 318.80,88.96 318.82,90.89 318.84,92.83 318.86,94.77 318.88,96.70 318.90,98.64 318.91,100.58 318.92,102.51 319.08,105.18 319.56,107.48 320.37,109.44 321.50,111.03 322.95,112.28 324.72,113.17 326.81,113.70 329.23,113.88 331.23,114.48 333.73,115.23 336.23,115.99 338.73,116.74 341.23,117.30 343.73,117.81 346.23,118.32 348.73,118.84 351.23,119.35 353.73,119.87" fill="none" stroke="rgb(126,126,126)" stroke-width="1.3" stroke-linejoin="round"/>
<polyline points="307.50,152.40 307.54,146.67 307.65,140.93 307.80,135.20 307.99,129.46 308.21,123.73 308.47,117.99 308.76,112.26 309.09,106.53 309.44,100.79 309.82,95.06 310.23,89.32 310.66,83.59 311.12,77.85 311.61,72.12 318.73,77.48 318.80,79.36 318.86,81.24 318.92,83.12 318.98,84.99 319.03,86.87 319.08,88.75 319.13,90.63 319.18,92.51 319.22,94.39 319.26,96.27 319.30,98.15 319.32,100.03 319.34,101.90 319.51,104.72 320.03,107.16 320.90,109.23 322.12,110.92 323.68,112.23 325.59,113.17 327.85,113.74 330.46,113.93 332.46,114.53 334.96,115.28 337.46,116.03 339.96,116.72 342.46,117.23 344.96,117.74 347.46,118.26 349.96,118.77 352.46,119.28 354.96,119.73" fill="none" stroke="rgb(135,135,135)" stroke-width="1.3" stroke-linejoin="round"/>
<polyline points="308.00,152.40 308.05,146.67 308.15,140.94 308.30,135.21 308.49,129.48 308.71,123.75 308.97,118.02 309.26,112.29 309.58,106.56 309.93,100.83 310.31,95.10 310.71,89.37 311.15,83.64 311.60,77.91 312.09,72.18 318.84,77.62 318.93,79.44 319.03,81.26 319.12,83.08 319.21,84.91 319.29,86.73 319.37,88.55 319.45,90.37 319.52,92.19 319.58,94.01 319.64,95.83 319.69,97.65 319.73,99.47 319.76,101.30 319.95,104.27 320.51,106.84 321.44,109.02 322.74,110.80 324.42,112.19 326.47,113.18 328.89,113.78 331.68,113.97 333.68,114.58 336.18,115.33 338.68,116.08 341.18,116.65 343.68,117.16 346.18,117.67 348.68,118.19 351.18,118.70 353.68,119.22 356.18,119.58 358.68,119.94" fill="none" stroke="rgb(143,143,143)" stroke-width="1.3" stroke-linejoin="round"/>
<polyline points="308.51,152.40 308.56,146.67 308.66,140.95 308.81,135.22 308.99,129.50 309.22,123.77 309.47,118.05 309.76,112.32 310.08,106.59 310.42,100.87 310.80,95.14 311.20,89.42 311.63,83.69 312.08,77.97 312.56,72.24 318.94,77.76 319.07,79.53 319.20,81.29 319.32,83.05 319.44,84.82 319.55,86.58 319.66,88.34 319.76,90.11 319.86,91.87 319.94,93.63 320.02,95.40 320.09,97.16 320.15,98.92 320.18,100.69 320.38,103.81 320.98,106.52 321.97,108.81 323.36,110.69 325.15,112.15 327.34,113.19 329.93,113.82 332.91,114.02 334.91,114.63 337.41,115.38 339.91,116.07 342.41,116.58 344.91,117.09 347.41,117.61 349.91,118.12 352.41,118.63 354.91,119.08 357.41,119.44 359.91,119.80 362.41,120.16" fill="none" stroke="rgb(152,152,152)" stroke-width="1.3" stroke-linejoin="round"/>
<polyline points="309.02,152.40 309.07,146.68 309.17,140.96 309.31,135.24 309.50,129.51 309.72,123.79 309.97,118.07 310.26,112.35 310.57,106.63 310.92,100.91 311.29,95.19 311.69,89.46 312.11,83.74 312.56,78.02 313.04,72.30 319.05,77.91 319.21,79.61 319.37,81.32 319.53,83.02 319.67,84.73 319.81,86.43 319.95,88.14 320.07,89.85 320.19,91.55 320.30,93.26 320.40,94.96 320.49,96.67 320.56,98.37 320.60,100.08 320.81,103.36 321.45,106.20 322.50,108.61 323.98,110.58 325.89,112.11 328.21,113.20 330.96,113.86 334.14,114.07 336.14,114.68 338.64,115.43 341.14,116.00 343.64,116.51 346.14,117.03 348.64,117.54 351.14,118.05 353.64,118.57 356.14,118.94 358.64,119.30 361.14,119.66 363.64,120.01" fill="none" stroke="rgb(160,160,160)" stroke-width="1.3" stroke-linejoin="round"/>
<polyline points="309.53,152.40 309.57,146.68 309.67,140.97 309.82,135.25 310.00,129.53 310.22,123.81 310.47,118.10 310.76,112.38 311.07,106.66 311.41,100.95 311.78,95.23 312.17,89.51 312.60,83.79 313.04,78.08 313.52,72.36 319.16,78.05 319.35,79.70 319.54,81.34 319.73,82.99 319.91,84.64 320.08,86.29 320.24,87.94 320.39,89.58 320.53,91.23 320.66,92.88 320.78,94.53 320.88,96.18 320.97,97.82 321.02,99.47 321.24,102.91 321.92,105.88 323.04,108.40 324.61,110.46 326.62,112.06 329.09,113.21 332.00,113.89 335.36,114.12 337.36,114.73 339.86,115.42 342.36,115.93 344.86,116.44 347.36,116.96 349.86,117.47 352.36,117.98 354.86,118.43 357.36,118.79 359.86,119.15 362.36,119.51 364.86,119.87 367.36,120.23" fill="none" stroke="rgb(169,169,169)" stroke-width="1.3" stroke-linejoin="round"/>
<polyline points="310.04,152.40 310.08,146.69 310.18,140.97 310.32,135.26 310.51,129.55 310.72,123.84 310.97,118.12 311.25,112.41 311.56,106.70 311.90,100.98 312.27,95.27 312.66,89.56 313.08,83.85 313.52,78.13 313.99,72.42 319.26,78.19 319.49,79.78 319.72,81.37 319.93,82.96 320.14,84.55 320.34,86.14 320.52,87.73 320.70,89.32 320.87,90.91 321.02,92.50 321.16,94.09 321.28,95.68 321.38,97.27 321.44,98.86 321.68,102.45 322.39,105.56 323.57,108.19 325.23,110.35 327.36,112.02 329.96,113.22 333.04,113.93 336.59,114.17 338.59,114.78 341.09,115.35 343.59,115.86 346.09,116.38 348.59,116.89 351.09,117.40 353.59,117.92 356.09,118.29 358.59,118.65 361.09,119.01 363.59,119.37 366.09,119.73 368.59,120.09 371.09,120.47" fill="none" stroke="rgb(177,177,177)" stroke-width="1.3" stroke-linejoin="round"/>
<polyline points="310.54,152.40 310.59,146.69 310.69,140.98 310.83,135.27 311.01,129.57 311.23,123.86 311.47,118.15 311.75,112.44 312.06,106.73 312.40,101.02 312.76,95.31 313.15,89.61 313.56,83.90 314.00,78.19 314.47,72.48 319.37,78.33 319.63,79.87 319.89,81.40 320.13,82.93 320.37,84.46 320.60,86.00 320.81,87.53 321.02,89.06 321.21,90.59 321.38,92.13 321.54,93.66 321.68,95.19 321.79,96.72 321.86,98.26 322.11,102.00 322.86,105.24 324.10,107.99 325.85,110.23 328.09,111.98 330.83,113.22 334.08,113.97 337.82,114.22 339.82,114.77 342.32,115.28 344.82,115.79 347.32,116.31 349.82,116.82 352.32,117.33 354.82,117.79 357.32,118.15 359.82,118.51 362.32,118.86 364.82,119.22 367.32,119.58 369.82,119.95 372.32,120.33" fill="none" stroke="rgb(186,186,186)" stroke-width="1.3" stroke-linejoin="round"/>
<polyline points="311.05,152.40 311.10,146.70 311.19,140.99 311.34,135.29 311.51,129.58 311.73,123.88 311.97,118.17 312.25,112.47 312.56,106.77 312.89,101.06 313.25,95.36 313.63,89.65 314.05,83.95 314.48,78.24 314.94,72.54 319.47,78.47 319.77,79.95 320.06,81.42 320.34,82.90 320.60,84.37 320.86,85.85 321.10,87.32 321.33,88.80 321.54,90.27 321.74,91.75 321.92,93.22 322.08,94.70 322.20,96.17 322.28,97.65 322.54,101.54 323.33,104.92 324.64,107.78 326.47,110.12 328.83,111.93 331.71,113.23 335.11,114.01 339.04,114.27 341.04,114.70 343.54,115.21 346.04,115.73 348.54,116.24 351.04,116.75 353.54,117.27 356.04,117.64 358.54,118.00 361.04,118.36 363.54,118.72 366.04,119.08 368.54,119.44 371.04,119.82 373.54,120.19 376.04,120.57" fill="none" stroke="rgb(194,194,194)" stroke-width="1.3" stroke-linejoin="round"/>
<polyline points="311.56,152.40 311.60,146.70 311.70,141.00 311.84,135.30 312.02,129.60 312.23,123.90 312.47,118.20 312.75,112.50 313.05,106.80 313.38,101.10 313.74,95.40 314.12,89.70 314.53,84.00 314.96,78.30 315.42,72.60 319.58,78.62 319.91,80.03 320.23,81.45 320.54,82.87 320.84,84.29 321.12,85.70 321.39,87.12 321.64,88.54 321.88,89.95 322.10,91.37 322.30,92.79 322.47,94.21 322.61,95.62 322.70,97.04 322.97,101.07 323.80,104.56 325.17,107.51 327.09,109.92 329.56,111.80 332.58,113.15 336.15,113.95 340.27,114.22 342.27,114.63 344.77,115.14 347.27,115.66 349.77,116.17 352.27,116.69 354.77,117.14 357.27,117.50 359.77,117.86 362.27,118.22 364.77,118.58 367.27,118.94 369.77,119.31 372.27,119.68 374.77,120.06 377.27,120.44 379.77,120.81" fill="none" stroke="rgb(202,202,202)" stroke-width="1.3" stroke-linejoin="round"/>
<polyline points="312.07,152.40 312.11,146.70 312.21,141.01 312.35,135.31 312.52,129.62 312.73,123.92 312.97,118.23 313.25,112.53 313.55,106.83 313.87,101.14 314.23,95.44 314.61,89.75 315.01,84.05 315.44,78.36 315.90,72.66 319.69,78.76 320.05,80.12 320.40,81.48 320.74,82.84 321.07,84.20 321.38,85.56 321.68,86.92 321.96,88.28 322.22,89.63 322.46,90.99 322.68,92.35 322.87,93.71 323.03,95.07 323.12,96.43 323.41,100.58 324.27,104.18 325.70,107.23 327.71,109.72 330.30,111.66 333.46,113.04 337.19,113.87 341.49,114.15 343.49,114.56 345.99,115.08 348.49,115.59 350.99,116.10 353.49,116.62 355.99,117.00 358.49,117.36 360.99,117.71 363.49,118.07 365.99,118.43 368.49,118.79 370.99,119.17 373.49,119.55 375.99,119.92 378.49,120.30 380.99,120.68" fill="none" stroke="rgb(211,211,211)" stroke-width="1.3" stroke-linejoin="round"/>
<polyline points="312.58,152.40 312.62,146.71 312.71,141.02 312.85,135.33 313.03,129.63 313.24,123.94 313.48,118.25 313.74,112.56 314.04,106.87 314.37,101.18 314.72,95.49 315.10,89.79 315.50,84.10 315.92,78.41 316.37,72.72 319.79,78.90 320.19,80.20 320.57,81.51 320.95,82.81 321.30,84.11 321.64,85.41 321.97,86.71 322.27,88.01 322.56,89.32 322.82,90.62 323.06,91.92 323.27,93.22 323.44,94.52 323.54,95.82 323.84,100.10 324.74,103.81 326.24,106.95 328.34,109.52 331.03,111.52 334.33,112.94 338.23,113.80 342.72,114.08 344.72,114.49 347.22,115.01 349.72,115.52 352.22,116.04 354.72,116.49 357.22,116.85 359.72,117.21 362.22,117.57 364.72,117.93 367.22,118.29 369.72,118.66 372.22,119.04 374.72,119.41 377.22,119.79 379.72,120.17 382.22,120.54 384.72,121.10" fill="none" stroke="rgb(219,219,219)" stroke-width="1.3" stroke-linejoin="round"/>
<polyline points="313.08,152.40 313.13,146.71 313.22,141.03 313.36,135.34 313.53,129.65 313.74,123.96 313.98,118.28 314.24,112.59 314.54,106.90 314.86,101.22 315.21,95.53 315.58,89.84 315.98,84.15 316.40,78.47 316.85,72.78 319.90,79.04 320.33,80.29 320.75,81.53 321.15,82.78 321.53,84.02 321.90,85.26 322.25,86.51 322.58,87.75 322.89,89.00 323.18,90.24 323.44,91.48 323.66,92.73 323.85,93.97 323.96,95.22 324.27,99.62 325.21,103.44 326.77,106.67 328.96,109.32 331.77,111.37 335.20,112.84 339.26,113.72 343.95,114.02 345.95,114.43 348.45,114.94 350.95,115.45 353.45,115.97 355.95,116.35 358.45,116.71 360.95,117.07 363.45,117.43 365.95,117.79 368.45,118.15 370.95,118.52 373.45,118.90 375.95,119.28 378.45,119.65 380.95,120.03 383.45,120.45 385.95,121.09 388.45,121.72" fill="none" stroke="rgb(228,228,228)" stroke-width="1.3" stroke-linejoin="round"/>
<polyline points="313.59,152.40 313.63,146.72 313.73,141.03 313.86,135.35 314.04,129.67 314.24,123.99 314.48,118.30 314.74,112.62 315.03,106.94 315.35,101.25 315.70,95.57 316.07,89.89 316.46,84.21 316.88,78.52 317.32,72.84 320.01,79.19 320.47,80.37 320.92,81.56 321.35,82.75 321.77,83.93 322.16,85.12 322.54,86.30 322.90,87.49 323.23,88.68 323.54,89.86 323.82,91.05 324.06,92.24 324.26,93.42 324.38,94.61 324.70,99.14 325.68,103.07 327.30,106.39 329.58,109.11 332.50,111.23 336.08,112.74 340.30,113.65 345.17,113.95 347.17,114.36 349.67,114.87 352.17,115.39 354.67,115.85 357.17,116.21 359.67,116.56 362.17,116.92 364.67,117.28 367.17,117.64 369.67,118.01 372.17,118.39 374.67,118.77 377.17,119.14 379.67,119.52 382.17,119.90 384.67,120.44 387.17,121.08 389.67,121.71" fill="none" stroke="rgb(236,236,236)" stroke-width="1.3" stroke-linejoin="round"/>
<polyline points="314.10,152.40 314.14,146.72 314.24,141.04 314.37,135.36 314.54,129.69 314.74,124.01 314.98,118.33 315.24,112.65 315.53,106.97 315.85,101.29 316.19,95.61 316.56,89.94 316.95,84.26 317.36,78.58 317.80,72.90 320.11,79.33 320.61,80.46 321.09,81.59 321.55,82.71 322.00,83.84 322.42,84.97 322.83,86.10 323.21,87.23 323.57,88.36 323.90,89.49 324.20,90.61 324.46,91.74 324.67,92.87 324.80,94.00 325.14,98.66 326.15,102.70 327.84,106.11 330.20,108.91 333.24,111.08 336.95,112.64 341.34,113.57 346.40,113.88 348.40,114.29 350.90,114.80 353.40,115.32 355.90,115.70 358.40,116.06 360.90,116.42 363.40,116.78 365.90,117.14 368.40,117.50 370.90,117.88 373.40,118.25 375.90,118.63 378.40,119.01 380.90,119.38 383.40,119.80 385.90,120.43 388.40,121.07 390.90,121.70 393.40,122.34" fill="none" stroke="rgb(245,245,245)" stroke-width="1.3" stroke-linejoin="round"/>
<line x1="302.65" y1="152.71" x2="302.65" y2="160.60" stroke="rgb(146,146,146)" stroke-width="1.2"/>
<line x1="304.80" y1="152.70" x2="304.80" y2="160.60" stroke="rgb(158,158,158)" stroke-width="1.2"/>
<line x1="305.48" y1="151.33" x2="305.48" y2="160.60" stroke="rgb(168,168,168)" stroke-width="1.2"/>
<line x1="308.00" y1="153.50" x2="308.00" y2="160.60" stroke="rgb(160,160,160)" stroke-width="1.2"/>
<line x1="309.55" y1="150.23" x2="309.55" y2="160.60" stroke="rgb(178,178,178)" stroke-width="1.2"/>
<line x1="311.45" y1="149.07" x2="311.45" y2="160.60" stroke="rgb(181,181,181)" stroke-width="1.2"/>
<line x1="312.87" y1="153.58" x2="312.87" y2="160.60" stroke="rgb(201,201,201)" stroke-width="1.2"/>
<line x1="314.50" y1="152.99" x2="314.50" y2="160.60" stroke="rgb(198,198,198)" stroke-width="1.2"/>
<line x1="316.82" y1="149.63" x2="316.82" y2="160.60" stroke="rgb(204,204,204)" stroke-width="1.2"/>
<line x1="318.90" y1="150.05" x2="318.90" y2="160.60" stroke="rgb(218,218,218)" stroke-width="1.2"/>
<line x1="320.81" y1="153.36" x2="320.81" y2="160.60" stroke="rgb(229,229,229)" stroke-width="1.2"/>
<line x1="322.55" y1="151.70" x2="322.55" y2="160.60" stroke="rgb(242,242,242)" stroke-width="1.2"/>
<polyline points="317.20,111.62 317.97,113.20 318.73,114.95 319.49,116.86 320.24,118.93 320.97,121.17 321.69,123.55 322.39,126.08 323.07,128.75 323.73,131.54 324.35,134.46 324.95,137.48 325.52,140.60 326.06,143.80 326.56,147.07 327.02,150.41 327.45,153.78 327.85,157.18 328.20,160.60" fill="none" stroke="rgb(51,51,51)" stroke-width="1.7" stroke-linejoin="round"/>
<line x1="326.38" y1="147.69" x2="326.38" y2="152.51" stroke="rgb(51,51,51)" stroke-width="1.6"/>
<line x1="326.40" y1="154.87" x2="326.40" y2="159.00" stroke="rgb(51,51,51)" stroke-width="1.6"/>
<polyline points="321.90,114.41 322.72,115.79 323.53,117.35 324.34,119.08 325.14,120.98 325.92,123.04 326.68,125.25 327.42,127.62 328.14,130.13 328.83,132.77 329.49,135.54 330.11,138.42 330.70,141.40 331.25,144.46 331.77,147.60 332.24,150.80 332.67,154.04 333.06,157.31 333.40,160.60" fill="none" stroke="rgb(70,70,70)" stroke-width="1.7" stroke-linejoin="round"/>
<line x1="333.80" y1="153.45" x2="333.80" y2="157.32" stroke="rgb(70,70,70)" stroke-width="1.6"/>
<line x1="331.78" y1="154.40" x2="331.78" y2="160.07" stroke="rgb(70,70,70)" stroke-width="1.6"/>
<polyline points="328.70,117.24 329.57,118.44 330.44,119.81 331.30,121.36 332.14,123.09 332.97,124.98 333.78,127.03 334.56,129.24 335.32,131.59 336.04,134.08 336.73,136.69 337.38,139.42 337.99,142.25 338.56,145.17 339.08,148.16 339.56,151.22 339.99,154.32 340.37,157.45 340.70,160.60" fill="none" stroke="rgb(90,90,90)" stroke-width="1.7" stroke-linejoin="round"/>
<line x1="338.65" y1="149.20" x2="338.65" y2="153.41" stroke="rgb(90,90,90)" stroke-width="1.6"/>
<line x1="341.08" y1="154.76" x2="341.08" y2="159.23" stroke="rgb(90,90,90)" stroke-width="1.6"/>
<polyline points="334.70,119.04 335.62,120.10 336.54,121.34 337.46,122.76 338.35,124.35 339.23,126.12 340.08,128.06 340.91,130.16 341.70,132.41 342.46,134.80 343.18,137.32 343.86,139.96 344.49,142.71 345.07,145.55 345.60,148.46 346.08,151.44 346.51,154.47 346.88,157.53 347.20,160.60" fill="none" stroke="rgb(109,109,109)" stroke-width="1.7" stroke-linejoin="round"/>
<line x1="345.27" y1="158.30" x2="345.27" y2="160.60" stroke="rgb(109,109,109)" stroke-width="1.6"/>
<line x1="346.97" y1="157.61" x2="346.97" y2="160.60" stroke="rgb(109,109,109)" stroke-width="1.6"/>
<polyline points="341.50,120.87 342.48,121.79 343.45,122.89 344.42,124.19 345.37,125.66 346.29,127.32 347.19,129.14 348.06,131.13 348.90,133.28 349.69,135.57 350.44,138.00 351.14,140.54 351.79,143.20 352.39,145.95 352.93,148.78 353.42,151.68 353.84,154.63 354.20,157.60 354.50,160.60" fill="none" stroke="rgb(128,128,128)" stroke-width="1.7" stroke-linejoin="round"/>
<line x1="352.08" y1="158.22" x2="352.08" y2="160.60" stroke="rgb(128,128,128)" stroke-width="1.6"/>
<line x1="352.90" y1="148.75" x2="352.90" y2="154.40" stroke="rgb(128,128,128)" stroke-width="1.6"/>
<polyline points="349.30,122.48 350.38,123.27 351.44,124.25 352.50,125.43 353.54,126.80 354.55,128.35 355.54,130.07 356.48,131.97 357.39,134.03 358.25,136.23 359.06,138.57 359.81,141.04 360.51,143.62 361.14,146.30 361.71,149.06 362.21,151.88 362.65,154.76 363.01,157.67 363.30,160.60" fill="none" stroke="rgb(147,147,147)" stroke-width="1.7" stroke-linejoin="round"/>
<line x1="361.39" y1="157.53" x2="361.39" y2="160.60" stroke="rgb(147,147,147)" stroke-width="1.6"/>
<line x1="362.89" y1="152.14" x2="362.89" y2="155.31" stroke="rgb(147,147,147)" stroke-width="1.6"/>
<polyline points="357.30,123.90 358.51,124.58 359.72,125.46 360.91,126.53 362.08,127.80 363.21,129.26 364.32,130.89 365.38,132.70 366.39,134.68 367.35,136.80 368.25,139.07 369.08,141.47 369.85,143.98 370.54,146.60 371.15,149.29 371.69,152.06 372.14,154.88 372.51,157.73 372.80,160.60" fill="none" stroke="rgb(167,167,167)" stroke-width="1.7" stroke-linejoin="round"/>
<line x1="370.07" y1="156.11" x2="370.07" y2="160.33" stroke="rgb(167,167,167)" stroke-width="1.6"/>
<line x1="372.62" y1="154.42" x2="372.62" y2="159.64" stroke="rgb(167,167,167)" stroke-width="1.6"/>
<polyline points="364.50,124.94 365.85,125.52 367.20,126.30 368.53,127.28 369.83,128.47 371.10,129.85 372.32,131.42 373.50,133.16 374.62,135.08 375.68,137.15 376.67,139.37 377.58,141.72 378.41,144.19 379.16,146.76 379.82,149.42 380.38,152.16 380.85,154.94 381.23,157.76 381.50,160.60" fill="none" stroke="rgb(186,186,186)" stroke-width="1.7" stroke-linejoin="round"/>
<line x1="381.06" y1="152.10" x2="381.06" y2="156.03" stroke="rgb(186,186,186)" stroke-width="1.6"/>
<line x1="379.69" y1="152.66" x2="379.69" y2="155.66" stroke="rgb(186,186,186)" stroke-width="1.6"/>
<polyline points="371.80,126.01 373.30,126.49 374.79,127.18 376.26,128.08 377.70,129.19 379.10,130.49 380.45,131.99 381.75,133.67 382.98,135.52 384.14,137.54 385.21,139.70 386.21,142.00 387.10,144.43 387.90,146.96 388.60,149.58 389.19,152.27 389.67,155.01 390.04,157.80 390.30,160.60" fill="none" stroke="rgb(205,205,205)" stroke-width="1.7" stroke-linejoin="round"/>
<line x1="389.37" y1="151.35" x2="389.37" y2="156.27" stroke="rgb(205,205,205)" stroke-width="1.6"/>
<line x1="389.13" y1="153.49" x2="389.13" y2="156.35" stroke="rgb(205,205,205)" stroke-width="1.6"/>
<polyline points="378.80,127.07 380.53,127.46 382.25,128.06 383.94,128.88 385.61,129.90 387.22,131.13 388.78,132.56 390.26,134.18 391.67,135.97 393.00,137.93 394.22,140.04 395.35,142.30 396.36,144.67 397.25,147.16 398.02,149.73 398.67,152.38 399.18,155.09 399.56,157.84 399.80,160.60" fill="none" stroke="rgb(224,224,224)" stroke-width="1.7" stroke-linejoin="round"/>
<line x1="397.23" y1="152.88" x2="397.23" y2="155.29" stroke="rgb(224,224,224)" stroke-width="1.6"/>
<line x1="396.36" y1="154.75" x2="396.36" y2="159.91" stroke="rgb(224,224,224)" stroke-width="1.6"/>
<line x1="294.00" y1="53.30" x2="294.00" y2="161.20" stroke="#484848" stroke-width="1.2"/>
<line x1="294.00" y1="160.60" x2="401.35" y2="160.60" stroke="#484848" stroke-width="1.2"/>
<line x1="290.00" y1="53.30" x2="294.00" y2="53.30" stroke="#484848" stroke-width="1.2"/>
<text x="280.70" y="57.85" font-size="13" text-anchor="start" fill="#1a1a1a">6</text>
<line x1="290.00" y1="89.07" x2="294.00" y2="89.07" stroke="#484848" stroke-width="1.2"/>
<text x="280.57" y="93.55" font-size="13" text-anchor="start" fill="#1a1a1a">4</text>
<line x1="290.00" y1="124.83" x2="294.00" y2="124.83" stroke="#484848" stroke-width="1.2"/>
<text x="280.83" y="129.38" font-size="13" text-anchor="start" fill="#1a1a1a">2</text>
<line x1="290.00" y1="160.60" x2="294.00" y2="160.60" stroke="#484848" stroke-width="1.2"/>
<text x="280.64" y="165.15" font-size="13" text-anchor="start" fill="#1a1a1a">0</text>
<line x1="294.00" y1="160.60" x2="294.00" y2="165.10" stroke="#484848" stroke-width="1.2"/>
<line x1="315.35" y1="160.60" x2="315.35" y2="165.10" stroke="#484848" stroke-width="1.2"/>
<line x1="336.70" y1="160.60" x2="336.70" y2="165.10" stroke="#484848" stroke-width="1.2"/>
<line x1="358.05" y1="160.60" x2="358.05" y2="165.10" stroke="#484848" stroke-width="1.2"/>
<line x1="379.40" y1="160.60" x2="379.40" y2="165.10" stroke="#484848" stroke-width="1.2"/>
<line x1="400.75" y1="160.60" x2="400.75" y2="165.10" stroke="#484848" stroke-width="1.2"/>
<text x="292.46" y="176.90" font-size="13" text-anchor="start" fill="#1a1a1a">0</text>
<text x="305.79" y="176.90" font-size="13" text-anchor="start" fill="#1a1a1a">0.2</text>
<text x="329.75" y="176.90" font-size="13" text-anchor="start" fill="#1a1a1a">0.4</text>
<text x="353.89" y="176.90" font-size="13" text-anchor="start" fill="#1a1a1a">0.6</text>
<text x="377.96" y="176.90" font-size="13" text-anchor="start" fill="#1a1a1a">0.8</text>
<text x="401.88" y="176.90" font-size="13" text-anchor="start" fill="#1a1a1a">1</text>
<text x="311.36" y="194.80" font-size="16" text-anchor="start" fill="#1a1a1a">Intensity (F)</text>
<text x="0" y="0" font-size="16" fill="#1a1a1a" transform="translate(272.20 137.52) rotate(-90)">Log count</text>
<line x1="363.80" y1="43.80" x2="363.80" y2="89.10" stroke="#222" stroke-width="1.3"/>
<line x1="363.20" y1="88.50" x2="422.80" y2="88.50" stroke="#222" stroke-width="1.3"/>
<line x1="374.40" y1="72.50" x2="414.60" y2="44.60" stroke="#222" stroke-width="1.5"/>
<line x1="375.20" y1="75.70" x2="415.40" y2="47.90" stroke="#222" stroke-width="1.2" stroke-dasharray="1.6 2.2"/>
<rect x="369.20" y="92.10" width="3.6" height="6.2" fill="rgb(46,46,46)"/>
<rect x="374.00" y="92.10" width="3.6" height="6.2" fill="rgb(68,68,68)"/>
<rect x="378.80" y="92.10" width="3.6" height="6.2" fill="rgb(91,91,91)"/>
<rect x="383.60" y="92.10" width="3.6" height="6.2" fill="rgb(113,113,113)"/>
<rect x="388.40" y="92.10" width="3.6" height="6.2" fill="rgb(135,135,135)"/>
<rect x="393.20" y="92.10" width="3.6" height="6.2" fill="rgb(158,158,158)"/>
<rect x="398.00" y="92.10" width="3.6" height="6.2" fill="rgb(180,180,180)"/>
<rect x="402.80" y="92.10" width="3.6" height="6.2" fill="rgb(203,203,203)"/>
<rect x="407.60" y="92.10" width="3.6" height="6.2" fill="rgb(225,225,225)"/>
<rect x="412.40" y="92.10" width="3.6" height="6.2" fill="rgb(247,247,247)"/>
<text x="355.80" y="109.60" font-size="13.3" text-anchor="start" fill="#1a1a1a">Observations</text>
<text x="0" y="0" font-size="13" fill="#1a1a1a" transform="translate(358.00 96.00) rotate(-90)">Amplitude</text>
<text x="514.03" y="20.60" font-size="13.4" text-anchor="start" fill="#1a1a1a">Post</text>
<polyline points="514.70,158.60 514.76,155.58 514.83,151.49 514.92,146.60 515.03,141.20 515.15,135.57 515.30,130.00 515.47,124.14 515.67,117.71 515.89,111.04 516.12,104.50 516.36,98.44 516.60,93.20 516.85,88.76 517.11,84.83 517.38,81.37 517.65,78.35 517.92,75.74 518.20,73.50 518.48,71.71 518.77,70.41 519.06,69.52 519.34,68.95 519.63,68.61 519.90,68.40 520.17,68.38 520.43,68.63 520.68,69.10 520.93,69.76 521.17,70.58 521.40,71.50 521.61,72.51 521.80,73.62 521.99,74.88 522.17,76.34 522.37,78.03 522.60,80.00 522.85,82.45 523.11,85.39 523.39,88.56 523.68,91.71 523.98,94.61 524.30,97.00 524.64,98.85 525.00,100.35 525.38,101.59 525.76,102.65 526.13,103.63 526.50,104.60 526.85,105.54 527.20,106.36 527.54,107.10 527.88,107.77 528.23,108.40 528.60,109.00 529.01,109.59 529.47,110.16 529.93,110.67 530.37,111.13 530.74,111.51 531.00,111.80" fill="none" stroke="rgb(184,184,184)" stroke-width="1.3" stroke-linejoin="round"/>
<polyline points="514.95,158.60 515.01,155.58 515.08,151.49 515.17,146.60 515.28,141.20 515.40,135.57 515.55,130.00 515.72,124.14 515.92,117.71 516.13,111.04 516.36,104.50 516.60,98.44 516.85,93.20 517.10,88.76 517.37,84.82 517.65,81.36 517.93,78.34 518.22,75.73 518.50,73.50 518.79,71.74 519.09,70.48 519.38,69.64 519.68,69.11 519.97,68.79 520.25,68.60 520.52,68.57 520.78,68.78 521.03,69.21 521.28,69.83 521.52,70.60 521.75,71.50 521.96,72.49 522.16,73.60 522.34,74.87 522.53,76.33 522.73,78.03 522.95,80.00 523.19,82.45 523.44,85.39 523.70,88.56 523.98,91.71 524.26,94.61 524.55,97.00 524.85,98.85 525.17,100.35 525.49,101.59 525.83,102.65 526.16,103.63 526.50,104.60 526.84,105.54 527.18,106.36 527.52,107.10 527.87,107.77 528.23,108.40 528.60,109.00 529.01,109.59 529.47,110.16 529.93,110.67 530.37,111.13 530.74,111.51 531.00,111.80" fill="none" stroke="rgb(207,207,207)" stroke-width="1.3" stroke-linejoin="round"/>
<polyline points="515.20,158.60 515.26,155.58 515.33,151.49 515.42,146.60 515.53,141.20 515.65,135.57 515.80,130.00 515.97,124.14 516.17,117.71 516.38,111.04 516.61,104.50 516.85,98.44 517.10,93.20 517.36,88.75 517.63,84.81 517.92,81.34 518.21,78.32 518.51,75.72 518.80,73.50 519.10,71.76 519.40,70.55 519.71,69.75 520.02,69.26 520.32,68.98 520.60,68.80 520.87,68.75 521.13,68.94 521.39,69.33 521.63,69.90 521.87,70.63 522.10,71.50 522.31,72.48 522.51,73.59 522.70,74.86 522.89,76.32 523.09,78.02 523.30,80.00 523.53,82.45 523.77,85.39 524.02,88.56 524.27,91.71 524.53,94.61 524.80,97.00 525.07,98.85 525.34,100.35 525.61,101.59 525.90,102.65 526.19,103.63 526.50,104.60 526.82,105.54 527.16,106.36 527.51,107.10 527.86,107.77 528.23,108.40 528.60,109.00 529.01,109.59 529.47,110.16 529.93,110.67 530.37,111.13 530.74,111.51 531.00,111.80" fill="none" stroke="rgb(230,230,230)" stroke-width="1.3" stroke-linejoin="round"/>
<polyline points="531.00,112.40 531.55,113.56 531.85,114.72 532.14,115.88 532.42,117.04 532.69,118.20 532.96,119.36 533.22,120.52 533.48,121.68 533.73,122.84 533.99,124.00 534.24,125.16 534.48,126.32 534.73,127.48 534.97,128.64 535.21,129.80 535.45,130.96 535.69,132.12 535.93,133.28 536.16,134.44 536.40,135.60 536.63,136.76 536.86,137.92 537.09,139.08 537.33,140.24 537.55,141.40 537.78,142.56 538.01,143.72 538.24,144.88 538.46,146.04 538.69,147.20 538.91,148.36 539.14,149.52 539.36,150.68 539.58,151.84 539.80,153.00 540.02,154.16 540.24,155.32 540.46,156.48 540.68,157.64 540.90,158.80" fill="none" stroke="rgb(46,46,46)" stroke-width="1.6" stroke-linejoin="round"/>
<line x1="537.67" y1="148.12" x2="537.67" y2="152.73" stroke="rgb(46,46,46)" stroke-width="1.5997690682905672"/>
<line x1="539.13" y1="155.77" x2="539.13" y2="158.29" stroke="rgb(46,46,46)" stroke-width="1.535031080886569"/>
<polyline points="531.00,112.40 532.50,112.88 534.22,113.56 534.52,114.72 534.81,115.88 535.09,117.04 535.36,118.20 535.63,119.36 535.89,120.52 536.15,121.68 536.40,122.84 536.65,124.00 536.90,125.16 537.15,126.32 537.39,127.48 537.64,128.64 537.88,129.80 538.12,130.96 538.36,132.12 538.59,133.28 538.83,134.44 539.06,135.60 539.30,136.76 539.53,137.92 539.76,139.08 539.99,140.24 540.22,141.40 540.45,142.56 540.68,143.72 540.90,144.88 541.13,146.04 541.35,147.20 541.58,148.36 541.80,149.52 542.02,150.68 542.25,151.84 542.47,153.00 542.69,154.16 542.91,155.32 543.13,156.48 543.35,157.64 543.57,158.80" fill="none" stroke="rgb(65,65,65)" stroke-width="1.6" stroke-linejoin="round"/>
<line x1="542.62" y1="147.56" x2="542.62" y2="149.68" stroke="rgb(65,65,65)" stroke-width="1.340622404233181"/>
<line x1="541.35" y1="153.45" x2="541.35" y2="158.80" stroke="rgb(65,65,65)" stroke-width="1.680503105449833"/>
<polyline points="531.00,112.40 532.50,112.88 534.00,113.36 535.50,113.84 537.19,114.72 537.48,115.88 537.75,117.04 538.03,118.20 538.29,119.36 538.55,120.52 538.81,121.68 539.07,122.84 539.32,124.00 539.57,125.16 539.82,126.32 540.06,127.48 540.30,128.64 540.55,129.80 540.79,130.96 541.02,132.12 541.26,133.28 541.50,134.44 541.73,135.60 541.96,136.76 542.20,137.92 542.43,139.08 542.66,140.24 542.89,141.40 543.12,142.56 543.34,143.72 543.57,144.88 543.80,146.04 544.02,147.20 544.24,148.36 544.47,149.52 544.69,150.68 544.91,151.84 545.13,153.00 545.36,154.16 545.58,155.32 545.80,156.48 546.01,157.64 546.23,158.80" fill="none" stroke="rgb(84,84,84)" stroke-width="1.6" stroke-linejoin="round"/>
<line x1="544.98" y1="145.94" x2="544.98" y2="151.25" stroke="rgb(84,84,84)" stroke-width="1.6374800733450598"/>
<line x1="547.05" y1="156.77" x2="547.05" y2="158.80" stroke="rgb(84,84,84)" stroke-width="1.392333365035482"/>
<polyline points="531.00,112.40 532.50,112.88 534.00,113.36 535.50,113.84 537.00,114.24 538.50,114.60 540.14,115.88 540.42,117.04 540.69,118.20 540.96,119.36 541.22,120.52 541.48,121.68 541.73,122.84 541.99,124.00 542.24,125.16 542.48,126.32 542.73,127.48 542.97,128.64 543.21,129.80 543.45,130.96 543.69,132.12 543.93,133.28 544.16,134.44 544.40,135.60 544.63,136.76 544.86,137.92 545.09,139.08 545.33,140.24 545.55,141.40 545.78,142.56 546.01,143.72 546.24,144.88 546.46,146.04 546.69,147.20 546.91,148.36 547.14,149.52 547.36,150.68 547.58,151.84 547.80,153.00 548.02,154.16 548.24,155.32 548.46,156.48 548.68,157.64 548.90,158.80" fill="none" stroke="rgb(104,104,104)" stroke-width="1.6" stroke-linejoin="round"/>
<line x1="549.60" y1="156.13" x2="549.60" y2="158.80" stroke="rgb(104,104,104)" stroke-width="1.7065421060198152"/>
<line x1="546.58" y1="152.88" x2="546.58" y2="156.26" stroke="rgb(104,104,104)" stroke-width="1.5654440801081373"/>
<polyline points="531.00,112.40 532.50,112.88 534.00,113.36 535.50,113.84 537.00,114.24 538.50,114.60 540.00,114.96 541.50,115.33 542.81,115.88 543.09,117.04 543.36,118.20 543.63,119.36 543.89,120.52 544.15,121.68 544.40,122.84 544.65,124.00 544.90,125.16 545.15,126.32 545.39,127.48 545.64,128.64 545.88,129.80 546.12,130.96 546.36,132.12 546.59,133.28 546.83,134.44 547.06,135.60 547.30,136.76 547.53,137.92 547.76,139.08 547.99,140.24 548.22,141.40 548.45,142.56 548.68,143.72 548.90,144.88 549.13,146.04 549.35,147.20 549.58,148.36 549.80,149.52 550.02,150.68 550.25,151.84 550.47,153.00 550.69,154.16 550.91,155.32 551.13,156.48 551.35,157.64 551.57,158.80" fill="none" stroke="rgb(123,123,123)" stroke-width="1.6" stroke-linejoin="round"/>
<line x1="551.63" y1="152.82" x2="551.63" y2="157.58" stroke="rgb(123,123,123)" stroke-width="1.5460286519927582"/>
<line x1="549.51" y1="154.26" x2="549.51" y2="158.02" stroke="rgb(123,123,123)" stroke-width="1.6298955408694746"/>
<polyline points="531.00,112.40 532.50,112.88 534.00,113.36 535.50,113.84 537.00,114.24 538.50,114.60 540.00,114.96 541.50,115.33 543.00,115.80 544.50,116.26 545.75,117.04 546.03,118.20 546.29,119.36 546.55,120.52 546.81,121.68 547.07,122.84 547.32,124.00 547.57,125.16 547.82,126.32 548.06,127.48 548.30,128.64 548.55,129.80 548.79,130.96 549.02,132.12 549.26,133.28 549.50,134.44 549.73,135.60 549.96,136.76 550.20,137.92 550.43,139.08 550.66,140.24 550.89,141.40 551.12,142.56 551.34,143.72 551.57,144.88 551.80,146.04 552.02,147.20 552.24,148.36 552.47,149.52 552.69,150.68 552.91,151.84 553.13,153.00 553.36,154.16 553.58,155.32 553.80,156.48 554.01,157.64 554.23,158.80" fill="none" stroke="rgb(142,142,142)" stroke-width="1.6" stroke-linejoin="round"/>
<line x1="554.07" y1="151.59" x2="554.07" y2="154.41" stroke="rgb(142,142,142)" stroke-width="1.5308927846774407"/>
<line x1="553.39" y1="148.05" x2="553.39" y2="151.10" stroke="rgb(142,142,142)" stroke-width="1.4144656016674904"/>
<polyline points="531.00,112.40 532.50,112.88 534.00,113.36 535.50,113.84 537.00,114.24 538.50,114.60 540.00,114.96 541.50,115.33 543.00,115.80 544.50,116.26 546.00,116.73 547.50,117.19 548.69,118.20 548.96,119.36 549.22,120.52 549.48,121.68 549.73,122.84 549.99,124.00 550.24,125.16 550.48,126.32 550.73,127.48 550.97,128.64 551.21,129.80 551.45,130.96 551.69,132.12 551.93,133.28 552.16,134.44 552.40,135.60 552.63,136.76 552.86,137.92 553.09,139.08 553.33,140.24 553.55,141.40 553.78,142.56 554.01,143.72 554.24,144.88 554.46,146.04 554.69,147.20 554.91,148.36 555.14,149.52 555.36,150.68 555.58,151.84 555.80,153.00 556.02,154.16 556.24,155.32 556.46,156.48 556.68,157.64 556.90,158.80" fill="none" stroke="rgb(162,162,162)" stroke-width="1.6" stroke-linejoin="round"/>
<line x1="557.58" y1="156.02" x2="557.58" y2="158.80" stroke="rgb(162,162,162)" stroke-width="1.5513711317861498"/>
<line x1="557.57" y1="155.99" x2="557.57" y2="158.51" stroke="rgb(162,162,162)" stroke-width="1.486582803670997"/>
<polyline points="531.00,112.40 532.50,112.88 534.00,113.36 535.50,113.84 537.00,114.24 538.50,114.60 540.00,114.96 541.50,115.33 543.00,115.80 544.50,116.26 546.00,116.73 547.50,117.19 549.00,117.66 550.50,118.28 551.63,119.36 551.89,120.52 552.15,121.68 552.40,122.84 552.65,124.00 552.90,125.16 553.15,126.32 553.39,127.48 553.64,128.64 553.88,129.80 554.12,130.96 554.36,132.12 554.59,133.28 554.83,134.44 555.06,135.60 555.30,136.76 555.53,137.92 555.76,139.08 555.99,140.24 556.22,141.40 556.45,142.56 556.68,143.72 556.90,144.88 557.13,146.04 557.35,147.20 557.58,148.36 557.80,149.52 558.02,150.68 558.25,151.84 558.47,153.00 558.69,154.16 558.91,155.32 559.13,156.48 559.35,157.64 559.57,158.80" fill="none" stroke="rgb(181,181,181)" stroke-width="1.6" stroke-linejoin="round"/>
<line x1="559.62" y1="152.76" x2="559.62" y2="156.32" stroke="rgb(181,181,181)" stroke-width="1.6250633552944018"/>
<line x1="557.95" y1="156.57" x2="557.95" y2="158.80" stroke="rgb(181,181,181)" stroke-width="1.5190530758122038"/>
<polyline points="531.00,112.40 532.50,112.88 534.00,113.36 535.50,113.84 537.00,114.24 538.50,114.60 540.00,114.96 541.50,115.33 543.00,115.80 544.50,116.26 546.00,116.73 547.50,117.19 549.00,117.66 550.50,118.28 552.00,119.31 553.50,120.35 554.81,121.68 555.07,122.84 555.32,124.00 555.57,125.16 555.82,126.32 556.06,127.48 556.30,128.64 556.55,129.80 556.79,130.96 557.02,132.12 557.26,133.28 557.50,134.44 557.73,135.60 557.96,136.76 558.20,137.92 558.43,139.08 558.66,140.24 558.89,141.40 559.12,142.56 559.34,143.72 559.57,144.88 559.80,146.04 560.02,147.20 560.24,148.36 560.47,149.52 560.69,150.68 560.91,151.84 561.13,153.00 561.36,154.16 561.58,155.32 561.80,156.48 562.01,157.64 562.23,158.80" fill="none" stroke="rgb(200,200,200)" stroke-width="1.6" stroke-linejoin="round"/>
<line x1="562.45" y1="153.63" x2="562.45" y2="158.18" stroke="rgb(200,200,200)" stroke-width="1.3566832246773899"/>
<line x1="561.77" y1="150.06" x2="561.77" y2="155.60" stroke="rgb(200,200,200)" stroke-width="1.665522618355482"/>
<polyline points="531.00,112.40 532.50,112.88 534.00,113.36 535.50,113.84 537.00,114.24 538.50,114.60 540.00,114.96 541.50,115.33 543.00,115.80 544.50,116.26 546.00,116.73 547.50,117.19 549.00,117.66 550.50,118.28 552.00,119.31 553.50,120.35 555.00,121.39 556.50,123.66 558.00,126.75 559.45,130.96 559.69,132.12 559.93,133.28 560.16,134.44 560.40,135.60 560.63,136.76 560.86,137.92 561.09,139.08 561.33,140.24 561.55,141.40 561.78,142.56 562.01,143.72 562.24,144.88 562.46,146.04 562.69,147.20 562.91,148.36 563.14,149.52 563.36,150.68 563.58,151.84 563.80,153.00 564.02,154.16 564.24,155.32 564.46,156.48 564.68,157.64 564.90,158.80" fill="none" stroke="rgb(219,219,219)" stroke-width="1.6" stroke-linejoin="round"/>
<line x1="563.93" y1="147.42" x2="563.93" y2="151.51" stroke="rgb(219,219,219)" stroke-width="1.595292672408846"/>
<line x1="563.20" y1="156.17" x2="563.20" y2="158.80" stroke="rgb(219,219,219)" stroke-width="1.3816235310849105"/>
<line x1="507.40" y1="52.60" x2="507.40" y2="159.40" stroke="#484848" stroke-width="1.2"/>
<line x1="507.40" y1="158.80" x2="614.80" y2="158.80" stroke="#484848" stroke-width="1.2"/>
<line x1="503.40" y1="52.60" x2="507.40" y2="52.60" stroke="#484848" stroke-width="1.2"/>
<text x="494.10" y="57.15" font-size="13" text-anchor="start" fill="#1a1a1a">6</text>
<line x1="503.40" y1="88.00" x2="507.40" y2="88.00" stroke="#484848" stroke-width="1.2"/>
<text x="493.97" y="92.48" font-size="13" text-anchor="start" fill="#1a1a1a">4</text>
<line x1="503.40" y1="123.40" x2="507.40" y2="123.40" stroke="#484848" stroke-width="1.2"/>
<text x="494.23" y="127.95" font-size="13" text-anchor="start" fill="#1a1a1a">2</text>
<line x1="503.40" y1="158.80" x2="507.40" y2="158.80" stroke="#484848" stroke-width="1.2"/>
<text x="494.04" y="163.35" font-size="13" text-anchor="start" fill="#1a1a1a">0</text>
<line x1="507.30" y1="158.80" x2="507.30" y2="163.30" stroke="#484848" stroke-width="1.2"/>
<line x1="528.68" y1="158.80" x2="528.68" y2="163.30" stroke="#484848" stroke-width="1.2"/>
<line x1="550.06" y1="158.80" x2="550.06" y2="163.30" stroke="#484848" stroke-width="1.2"/>
<line x1="571.44" y1="158.80" x2="571.44" y2="163.30" stroke="#484848" stroke-width="1.2"/>
<line x1="592.82" y1="158.80" x2="592.82" y2="163.30" stroke="#484848" stroke-width="1.2"/>
<line x1="614.20" y1="158.80" x2="614.20" y2="163.30" stroke="#484848" stroke-width="1.2"/>
<text x="502.46" y="176.80" font-size="13" text-anchor="start" fill="#1a1a1a">0</text>
<text x="515.79" y="176.80" font-size="13" text-anchor="start" fill="#1a1a1a">0.2</text>
<text x="539.75" y="176.80" font-size="13" text-anchor="start" fill="#1a1a1a">0.4</text>
<text x="563.90" y="176.80" font-size="13" text-anchor="start" fill="#1a1a1a">0.6</text>
<text x="587.97" y="176.80" font-size="13" text-anchor="start" fill="#1a1a1a">0.8</text>
<text x="611.88" y="176.80" font-size="13" text-anchor="start" fill="#1a1a1a">1</text>
<text x="506.86" y="194.80" font-size="16" text-anchor="start" fill="#1a1a1a">Norm. Intensity</text>
<text x="0" y="0" font-size="16" fill="#1a1a1a" transform="translate(486.40 137.12) rotate(-90)">Log count</text>
<text x="302.73" y="253.60" font-size="13.4" text-anchor="start" fill="#1a1a1a">Pre</text>
<polyline points="299.70,360.50 299.76,354.21 299.91,347.91 300.12,341.62 300.38,335.33 300.69,329.04 301.05,322.74 301.45,316.45 301.90,310.16 302.39,303.86 302.92,297.57 303.48,291.28 304.09,284.99 304.73,278.69 305.40,272.40 318.23,276.94 317.77,279.57 317.32,282.21 316.90,284.84 316.49,287.48 316.09,290.11 315.72,292.75 315.37,295.39 315.04,298.02 314.73,300.66 314.46,303.29 314.21,305.93 314.02,308.56 313.90,311.20 313.92,311.84 313.99,312.40 314.10,312.87 314.26,313.26 314.46,313.56 314.71,313.77 315.00,313.90 315.34,313.94 317.34,315.11 319.84,316.10 322.34,316.93 324.84,317.75 327.34,318.58 329.84,319.41 332.34,320.25 334.84,321.08 337.34,322.08 339.84,323.57 341.41,325.46 342.32,327.07 343.23,328.78 344.12,330.59 345.00,332.51 345.87,334.52 346.71,336.62 347.54,338.81 348.34,341.08 349.12,343.43 349.87,345.84 350.59,348.32 351.28,350.85 351.93,353.42 352.55,356.04 353.14,358.68 353.69,361.33 354.20,364.00" fill="none" stroke="rgb(38,38,38)" stroke-width="1.3" stroke-linejoin="round"/>
<polyline points="300.20,360.50 300.26,354.21 300.41,347.92 300.61,341.63 300.87,335.35 301.19,329.06 301.54,322.77 301.95,316.48 302.39,310.19 302.88,303.90 303.40,297.61 303.96,291.33 304.56,285.04 305.20,278.75 305.87,272.46 318.30,277.05 317.88,279.64 317.47,282.24 317.08,284.83 316.70,287.42 316.34,290.01 315.99,292.61 315.67,295.20 315.37,297.79 315.09,300.38 314.83,302.98 314.61,305.57 314.43,308.16 314.32,310.75 314.35,311.61 314.45,312.35 314.61,312.98 314.83,313.50 315.11,313.90 315.46,314.19 315.87,314.36 316.35,314.41 318.35,315.50 320.85,316.32 323.35,317.14 325.85,317.96 328.35,318.80 330.85,319.63 333.35,320.46 335.85,321.30 338.35,322.56 341.57,325.39 342.50,326.97 343.42,328.65 344.33,330.44 345.23,332.34 346.11,334.34 346.97,336.44 347.81,338.63 348.62,340.91 349.41,343.26 350.17,345.69 350.89,348.18 351.58,350.73 352.24,353.33 352.86,355.96 353.44,358.63 353.99,361.31 354.49,364.00" fill="none" stroke="rgb(46,46,46)" stroke-width="1.3" stroke-linejoin="round"/>
<polyline points="300.70,360.50 300.76,354.22 300.91,347.93 301.11,341.65 301.37,335.36 301.68,329.08 302.04,322.79 302.44,316.51 302.88,310.23 303.36,303.94 303.89,297.66 304.45,291.37 305.04,285.09 305.68,278.80 306.34,272.52 318.38,277.17 318.00,279.72 317.62,282.27 317.26,284.82 316.92,287.36 316.59,289.91 316.27,292.46 315.97,295.01 315.70,297.56 315.44,300.11 315.21,302.66 315.00,305.21 314.84,307.76 314.74,310.30 314.78,311.38 314.90,312.31 315.11,313.10 315.40,313.74 315.76,314.24 316.21,314.60 316.75,314.81 317.36,314.89 319.36,315.71 321.86,316.53 324.36,317.35 326.86,318.18 329.36,319.01 331.86,319.85 334.36,320.68 336.86,321.56 339.36,323.05 341.73,325.32 342.67,326.86 343.61,328.52 344.54,330.30 345.45,332.18 346.35,334.17 347.22,336.27 348.08,338.46 348.90,340.74 349.70,343.10 350.46,345.54 351.19,348.05 351.89,350.62 352.55,353.23 353.17,355.89 353.75,358.58 354.29,361.28 354.78,364.00" fill="none" stroke="rgb(54,54,54)" stroke-width="1.3" stroke-linejoin="round"/>
<polyline points="301.20,360.50 301.26,354.22 301.41,347.94 301.61,341.66 301.87,335.38 302.18,329.10 302.53,322.82 302.93,316.54 303.37,310.26 303.85,303.98 304.37,297.70 304.93,291.42 305.52,285.14 306.15,278.86 306.82,272.58 318.46,277.29 318.11,279.79 317.77,282.30 317.45,284.80 317.13,287.31 316.83,289.81 316.55,292.32 316.28,294.82 316.03,297.33 315.79,299.83 315.58,302.34 315.40,304.85 315.25,307.35 315.16,309.86 315.21,311.12 315.36,312.22 315.61,313.15 315.96,313.91 316.41,314.50 316.97,314.92 317.62,315.18 318.37,315.26 320.37,315.92 322.87,316.74 325.37,317.56 327.87,318.40 330.37,319.23 332.87,320.06 335.37,320.90 337.87,322.04 340.37,323.53 341.89,325.25 342.85,326.76 343.81,328.39 344.75,330.15 345.68,332.02 346.59,334.00 347.48,336.09 348.35,338.28 349.18,340.57 349.99,342.94 350.76,345.39 351.50,347.91 352.20,350.50 352.86,353.14 353.47,355.81 354.05,358.53 354.59,361.26 355.08,364.00" fill="none" stroke="rgb(62,62,62)" stroke-width="1.3" stroke-linejoin="round"/>
<polyline points="301.70,360.50 301.76,354.22 301.90,347.95 302.11,341.67 302.36,335.40 302.67,329.12 303.02,322.85 303.42,316.57 303.86,310.29 304.34,304.02 304.85,297.74 305.41,291.47 306.00,285.19 306.63,278.92 307.29,272.64 318.54,277.40 318.22,279.86 317.92,282.33 317.63,284.79 317.35,287.25 317.08,289.71 316.82,292.17 316.58,294.64 316.36,297.10 316.15,299.56 315.96,302.02 315.80,304.48 315.66,306.95 315.58,309.41 315.64,310.83 315.82,312.06 316.11,313.10 316.53,313.96 317.06,314.62 317.72,315.10 318.49,315.38 319.38,315.47 321.38,316.13 323.88,316.95 326.38,317.78 328.88,318.61 331.38,319.45 333.88,320.28 336.38,321.11 338.88,322.52 342.05,325.17 343.03,326.66 344.00,328.27 344.96,330.00 345.91,331.86 346.84,333.83 347.74,335.92 348.62,338.11 349.46,340.40 350.28,342.78 351.06,345.24 351.80,347.78 352.51,350.38 353.17,353.04 353.78,355.74 354.36,358.47 354.89,361.23 355.37,364.00" fill="none" stroke="rgb(70,70,70)" stroke-width="1.3" stroke-linejoin="round"/>
<polyline points="302.20,360.50 302.26,354.23 302.40,347.96 302.61,341.69 302.86,335.41 303.17,329.14 303.52,322.87 303.91,316.60 304.35,310.33 304.82,304.06 305.34,297.79 305.89,291.51 306.48,285.24 307.10,278.97 307.76,272.70 318.61,277.52 318.34,279.94 318.07,282.36 317.81,284.77 317.56,287.19 317.32,289.61 317.10,292.03 316.89,294.45 316.69,296.87 316.50,299.29 316.34,301.70 316.19,304.12 316.07,306.54 316.00,308.96 316.07,310.54 316.27,311.90 316.62,313.06 317.10,314.00 317.72,314.74 318.47,315.27 319.36,315.58 320.39,315.69 322.39,316.34 324.89,317.17 327.39,318.00 329.89,318.83 332.39,319.66 334.89,320.50 337.39,321.51 339.89,323.00 342.20,325.10 343.20,326.55 344.20,328.14 345.18,329.85 346.14,331.70 347.08,333.66 348.00,335.74 348.89,337.93 349.75,340.23 350.57,342.61 351.36,345.09 352.11,347.64 352.81,350.26 353.48,352.94 354.09,355.67 354.66,358.42 355.19,361.21 355.66,364.00" fill="none" stroke="rgb(78,78,78)" stroke-width="1.3" stroke-linejoin="round"/>
<polyline points="302.70,360.50 302.76,354.23 302.90,347.97 303.10,341.70 303.36,335.43 303.66,329.16 304.01,322.90 304.40,316.63 304.84,310.36 305.31,304.10 305.82,297.83 306.37,291.56 306.96,285.29 307.58,279.03 308.23,272.76 318.69,277.64 318.45,280.01 318.22,282.39 317.99,284.76 317.78,287.14 317.57,289.51 317.37,291.89 317.19,294.26 317.02,296.64 316.86,299.01 316.71,301.39 316.59,303.76 316.48,306.14 316.42,308.51 316.50,310.24 316.73,311.74 317.12,313.01 317.67,314.05 318.37,314.86 319.22,315.44 320.23,315.78 321.40,315.90 323.40,316.56 325.90,317.38 328.40,318.21 330.90,319.05 333.40,319.88 335.90,320.71 338.40,321.99 340.90,323.48 342.36,325.03 343.38,326.45 344.39,328.01 345.39,329.70 346.37,331.53 347.33,333.49 348.26,335.56 349.16,337.75 350.03,340.05 350.87,342.45 351.66,344.94 352.42,347.51 353.13,350.15 353.79,352.85 354.40,355.59 354.97,358.37 355.49,361.18 355.95,364.00" fill="none" stroke="rgb(86,86,86)" stroke-width="1.3" stroke-linejoin="round"/>
<polyline points="303.20,360.50 303.26,354.24 303.40,347.97 303.60,341.71 303.85,335.45 304.16,329.19 304.50,322.92 304.89,316.66 305.33,310.40 305.80,304.13 306.31,297.87 306.85,291.61 307.44,285.35 308.05,279.08 308.70,272.82 318.77,277.75 318.56,280.08 318.37,282.42 318.18,284.75 317.99,287.08 317.82,289.41 317.65,291.74 317.49,294.07 317.35,296.41 317.21,298.74 317.09,301.07 316.98,303.40 316.89,305.73 316.84,308.06 316.93,309.95 317.19,311.58 317.62,312.97 318.23,314.10 319.02,314.98 319.97,315.61 321.11,315.99 322.41,316.11 324.41,316.77 326.91,317.60 329.41,318.43 331.91,319.26 334.41,320.10 336.91,320.99 339.41,322.48 342.52,324.96 343.56,326.35 344.59,327.89 345.60,329.56 346.60,331.38 347.57,333.32 348.52,335.39 349.44,337.58 350.32,339.89 351.16,342.29 351.96,344.79 352.72,347.38 353.44,350.03 354.10,352.75 354.72,355.52 355.28,358.32 355.79,361.16 356.24,364.00" fill="none" stroke="rgb(94,94,94)" stroke-width="1.3" stroke-linejoin="round"/>
<polyline points="303.70,360.50 303.76,354.24 303.90,347.98 304.10,341.72 304.35,335.47 304.65,329.21 305.00,322.95 305.39,316.69 305.81,310.43 306.28,304.17 306.79,297.91 307.33,291.66 307.91,285.40 308.53,279.14 309.18,272.88 318.85,277.87 318.68,280.16 318.52,282.44 318.36,284.73 318.21,287.02 318.06,289.31 317.93,291.60 317.80,293.89 317.68,296.17 317.56,298.46 317.46,300.75 317.38,303.04 317.30,305.33 317.26,307.62 317.36,309.66 317.65,311.43 318.13,312.92 318.80,314.15 319.67,315.10 320.73,315.78 321.98,316.19 323.42,316.32 325.42,316.98 327.92,317.81 330.42,318.65 332.92,319.48 335.42,320.31 337.92,321.47 340.42,322.96 342.68,324.90 343.74,326.26 344.79,327.77 345.82,329.43 346.83,331.22 347.82,333.16 348.78,335.23 349.71,337.42 350.60,339.72 351.46,342.14 352.27,344.65 353.03,347.25 353.75,349.92 354.41,352.66 355.03,355.45 355.59,358.28 356.09,361.13 356.54,364.00" fill="none" stroke="rgb(102,102,102)" stroke-width="1.3" stroke-linejoin="round"/>
<polyline points="304.20,360.50 304.26,354.25 304.40,347.99 304.60,341.74 304.85,335.48 305.15,329.23 305.49,322.97 305.88,316.72 306.30,310.47 306.77,304.21 307.27,297.96 307.82,291.70 308.39,285.45 309.00,279.19 309.65,272.94 318.92,277.98 318.79,280.23 318.66,282.47 318.54,284.72 318.42,286.96 318.31,289.21 318.20,291.45 318.10,293.70 318.01,295.94 317.92,298.19 317.84,300.43 317.77,302.68 317.71,304.92 317.68,307.17 317.79,309.36 318.10,311.27 318.63,312.88 319.37,314.19 320.32,315.22 321.48,315.95 322.85,316.39 324.43,316.54 326.43,317.20 328.93,318.03 331.43,318.86 333.93,319.70 336.43,320.53 338.93,321.95 341.43,323.44 342.84,324.84 343.92,326.17 344.98,327.65 346.03,329.29 347.06,331.07 348.07,333.00 349.04,335.06 349.99,337.25 350.89,339.56 351.75,341.98 352.57,344.50 353.34,347.12 354.06,349.81 354.73,352.56 355.34,355.38 355.89,358.23 356.39,361.11 356.83,364.00" fill="none" stroke="rgb(110,110,110)" stroke-width="1.3" stroke-linejoin="round"/>
<polyline points="304.70,360.50 304.76,354.25 304.90,348.00 305.10,341.75 305.34,335.50 305.64,329.25 305.98,323.00 306.37,316.75 306.79,310.50 307.26,304.25 307.76,298.00 308.30,291.75 308.87,285.50 309.48,279.25 310.12,273.00 319.00,278.10 318.91,280.30 318.81,282.50 318.72,284.71 318.64,286.91 318.56,289.11 318.48,291.31 318.41,293.51 318.34,295.71 318.27,297.91 318.22,300.12 318.17,302.32 318.12,304.52 318.10,306.72 318.21,309.07 318.56,311.11 319.13,312.83 319.94,314.24 320.97,315.34 322.23,316.12 323.72,316.59 325.44,316.75 327.44,317.41 329.94,318.25 332.44,319.08 334.94,319.91 337.44,320.94 339.94,322.43 343.00,324.78 344.10,326.08 345.18,327.54 346.25,329.15 347.30,330.92 348.32,332.83 349.31,334.89 350.26,337.08 351.18,339.39 352.05,341.82 352.88,344.36 353.65,346.98 354.38,349.69 355.04,352.47 355.65,355.30 356.20,358.18 356.69,361.08 357.12,364.00" fill="none" stroke="rgb(118,118,118)" stroke-width="1.3" stroke-linejoin="round"/>
<polyline points="305.20,360.50 305.26,354.25 305.40,348.01 305.59,341.76 305.84,335.52 306.14,329.27 306.48,323.03 306.86,316.78 307.28,310.53 307.74,304.29 308.24,298.04 308.78,291.80 309.35,285.55 309.95,279.31 310.59,273.06 319.08,278.22 319.02,280.38 318.96,282.53 318.91,284.69 318.85,286.85 318.80,289.01 318.75,291.17 318.71,293.32 318.67,295.48 318.63,297.64 318.59,299.80 318.56,301.96 318.54,304.11 318.52,306.27 318.64,308.78 319.02,310.95 319.64,312.79 320.50,314.29 321.62,315.46 322.98,316.30 324.59,316.80 326.45,316.96 328.45,317.63 330.95,318.46 333.45,319.30 335.95,320.13 338.45,321.43 340.95,322.91 343.16,324.72 344.27,325.99 345.38,327.42 346.47,329.01 347.53,330.77 348.57,332.67 349.57,334.72 350.54,336.91 351.47,339.23 352.35,341.67 353.19,344.21 353.97,346.85 354.69,349.58 355.36,352.38 355.97,355.23 356.51,358.13 356.99,361.06 357.41,364.00" fill="none" stroke="rgb(126,126,126)" stroke-width="1.3" stroke-linejoin="round"/>
<polyline points="305.70,360.50 305.76,354.26 305.90,348.02 306.09,341.78 306.34,335.53 306.63,329.29 306.97,323.05 307.35,316.81 307.77,310.57 308.23,304.33 308.73,298.09 309.26,291.84 309.83,285.60 310.43,279.36 311.06,273.12 319.16,278.33 319.13,280.45 319.11,282.56 319.09,284.68 319.07,286.79 319.05,288.91 319.03,291.02 319.01,293.14 319.00,295.25 318.98,297.37 318.97,299.48 318.96,301.59 318.95,303.71 318.94,305.82 319.07,308.49 319.47,310.79 320.14,312.75 321.07,314.34 322.27,315.58 323.74,316.47 325.47,317.00 327.46,317.18 329.46,317.85 331.96,318.68 334.46,319.51 336.96,320.42 339.46,321.91 341.96,323.45 343.32,324.66 344.45,325.90 345.58,327.30 346.68,328.88 347.76,330.61 348.82,332.51 349.84,334.56 350.82,336.74 351.76,339.07 352.65,341.51 353.49,344.07 354.28,346.72 355.01,349.47 355.68,352.28 356.28,355.16 356.82,358.08 357.30,361.03 357.70,364.00" fill="none" stroke="rgb(134,134,134)" stroke-width="1.3" stroke-linejoin="round"/>
<polyline points="306.20,360.50 306.26,354.26 306.40,348.03 306.59,341.79 306.83,335.55 307.13,329.31 307.46,323.08 307.84,316.84 308.26,310.60 308.72,304.37 309.21,298.13 309.74,291.89 310.31,285.65 310.90,279.42 311.54,273.18 319.23,278.45 319.25,280.52 319.26,282.59 319.27,284.66 319.28,286.74 319.30,288.81 319.31,290.88 319.32,292.95 319.33,295.02 319.34,297.09 319.34,299.16 319.35,301.23 319.36,303.30 319.36,305.38 319.50,308.19 319.93,310.64 320.64,312.70 321.64,314.39 322.92,315.71 324.49,316.65 326.34,317.21 328.48,317.40 330.48,318.07 332.98,318.90 335.48,319.73 337.98,320.90 340.48,322.39 343.48,324.60 344.63,325.81 345.78,327.19 346.90,328.74 348.00,330.46 349.07,332.35 350.11,334.39 351.10,336.58 352.05,338.90 352.96,341.35 353.80,343.92 354.60,346.59 355.33,349.35 355.99,352.19 356.60,355.09 357.13,358.03 357.60,361.01 358.00,364.00" fill="none" stroke="rgb(142,142,142)" stroke-width="1.3" stroke-linejoin="round"/>
<polyline points="306.70,360.50 306.76,354.27 306.89,348.03 307.09,341.80 307.33,335.57 307.62,329.34 307.96,323.10 308.33,316.87 308.75,310.64 309.20,304.40 309.70,298.17 310.22,291.94 310.78,285.71 311.38,279.47 312.01,273.24 319.31,278.57 319.36,280.60 319.41,282.62 319.46,284.65 319.50,286.68 319.54,288.71 319.58,290.73 319.62,292.76 319.66,294.79 319.69,296.82 319.72,298.84 319.75,300.87 319.77,302.90 319.78,304.93 319.93,307.90 320.39,310.48 321.14,312.66 322.21,314.44 323.57,315.83 325.24,316.82 327.21,317.42 329.49,317.62 331.49,318.28 333.99,319.12 336.49,319.95 338.99,321.38 341.49,322.88 343.64,324.54 344.81,325.71 345.98,327.07 347.12,328.60 348.24,330.31 349.32,332.18 350.38,334.22 351.38,336.41 352.35,338.74 353.26,341.20 354.11,343.78 354.91,346.46 355.65,349.24 356.31,352.10 356.91,355.02 357.44,357.98 357.90,360.98 358.29,364.00" fill="none" stroke="rgb(150,150,150)" stroke-width="1.3" stroke-linejoin="round"/>
<polyline points="307.20,360.50 307.26,354.27 307.39,348.04 307.58,341.81 307.83,335.59 308.12,329.36 308.45,323.13 308.83,316.90 309.24,310.67 309.69,304.44 310.18,298.21 310.70,291.99 311.26,285.76 311.86,279.53 312.48,273.30 319.39,278.68 319.47,280.67 319.56,282.65 319.64,284.64 319.72,286.62 319.79,288.61 319.86,290.59 319.93,292.57 319.99,294.56 320.04,296.54 320.10,298.53 320.14,300.51 320.18,302.50 320.20,304.48 320.36,307.61 320.84,310.32 321.65,312.62 322.77,314.49 324.22,315.95 325.99,317.00 328.08,317.62 330.50,317.83 332.50,318.50 335.00,319.33 337.50,320.37 340.00,321.86 342.50,323.46 343.80,324.48 345.00,325.62 346.18,326.95 347.34,328.46 348.47,330.16 349.58,332.02 350.64,334.05 351.67,336.24 352.64,338.57 353.56,341.04 354.43,343.63 355.23,346.33 355.96,349.13 356.63,352.00 357.23,354.94 357.75,357.93 358.20,360.96 358.58,364.00" fill="none" stroke="rgb(158,158,158)" stroke-width="1.3" stroke-linejoin="round"/>
<polyline points="307.70,360.50 307.76,354.28 307.89,348.05 308.08,341.83 308.32,335.60 308.61,329.38 308.94,323.15 309.32,316.93 309.73,310.71 310.18,304.48 310.66,298.26 311.19,292.03 311.74,285.81 312.33,279.58 312.95,273.36 319.47,278.80 319.59,280.74 319.71,282.68 319.82,284.62 319.93,286.56 320.04,288.51 320.13,290.45 320.23,292.39 320.32,294.33 320.40,296.27 320.47,298.21 320.54,300.15 320.59,302.09 320.62,304.03 320.79,307.32 321.30,310.16 322.15,312.57 323.34,314.54 324.87,316.08 326.74,317.17 328.95,317.83 331.51,318.05 333.51,318.72 336.01,319.55 338.51,320.86 341.01,322.35 343.96,324.42 345.18,325.53 346.38,326.83 347.56,328.33 348.71,330.00 349.83,331.86 350.91,333.88 351.95,336.07 352.94,338.41 353.87,340.88 354.74,343.48 355.55,346.20 356.29,349.01 356.95,351.91 357.55,354.87 358.07,357.89 358.51,360.93 358.87,364.00" fill="none" stroke="rgb(166,166,166)" stroke-width="1.3" stroke-linejoin="round"/>
<polyline points="308.20,360.50 308.26,354.28 308.39,348.06 308.58,341.84 308.82,335.62 309.11,329.40 309.44,323.18 309.81,316.96 310.22,310.74 310.66,304.52 311.15,298.30 311.67,292.08 312.22,285.86 312.81,279.64 313.42,273.42 319.54,278.92 319.70,280.81 319.86,282.71 320.00,284.61 320.15,286.51 320.28,288.40 320.41,290.30 320.53,292.20 320.65,294.10 320.75,295.99 320.85,297.89 320.93,299.79 321.00,301.69 321.04,303.58 321.22,307.02 321.76,310.01 322.65,312.53 323.91,314.60 325.52,316.20 327.50,317.35 329.83,318.04 332.52,318.27 334.52,318.93 337.02,319.85 339.52,321.34 342.02,322.89 344.12,324.36 345.36,325.44 346.58,326.72 347.78,328.19 348.95,329.85 350.09,331.69 351.19,333.71 352.24,335.90 353.23,338.24 354.18,340.72 355.05,343.34 355.87,346.07 356.61,348.90 357.27,351.81 357.87,354.80 358.38,357.84 358.81,360.91 359.16,364.00" fill="none" stroke="rgb(174,174,174)" stroke-width="1.3" stroke-linejoin="round"/>
<polyline points="308.70,360.50 308.76,354.28 308.89,348.07 309.08,341.85 309.32,335.64 309.60,329.42 309.93,323.21 310.30,316.99 310.71,310.77 311.15,304.56 311.63,298.34 312.15,292.13 312.70,285.91 313.28,279.70 313.90,273.48 319.62,279.03 319.82,280.89 320.00,282.74 320.19,284.60 320.36,286.45 320.53,288.30 320.69,290.16 320.84,292.01 320.98,293.87 321.11,295.72 321.22,297.57 321.33,299.43 321.41,301.28 321.46,303.14 321.65,306.73 322.21,309.85 323.16,312.49 324.48,314.65 326.17,316.32 328.25,317.52 330.70,318.24 333.53,318.48 335.53,319.15 338.03,320.33 340.53,321.82 344.28,324.30 345.54,325.35 346.78,326.60 348.00,328.05 349.19,329.70 350.34,331.53 351.46,333.54 352.52,335.73 353.53,338.07 354.48,340.57 355.37,343.19 356.19,345.93 356.93,348.78 357.60,351.72 358.19,354.73 358.69,357.79 359.12,360.88 359.46,364.00" fill="none" stroke="rgb(181,181,181)" stroke-width="1.3" stroke-linejoin="round"/>
<polyline points="309.20,360.50 309.26,354.29 309.39,348.08 309.58,341.87 309.81,335.65 310.10,329.44 310.42,323.23 310.79,317.02 311.20,310.81 311.64,304.60 312.12,298.39 312.63,292.17 313.18,285.96 313.76,279.75 314.37,273.54 319.70,279.15 319.93,280.96 320.15,282.77 320.37,284.58 320.58,286.39 320.77,288.20 320.96,290.01 321.14,291.82 321.31,293.64 321.46,295.45 321.60,297.26 321.72,299.07 321.82,300.88 321.88,302.69 322.08,306.44 322.67,309.69 323.66,312.44 325.04,314.70 326.82,316.45 329.00,317.70 331.57,318.45 334.54,318.70 336.54,319.37 339.04,320.81 341.54,322.32 344.44,324.24 345.72,325.26 346.98,326.48 348.22,327.91 349.43,329.54 350.60,331.37 351.73,333.38 352.81,335.56 353.83,337.91 354.79,340.41 355.69,343.04 356.51,345.80 357.25,348.67 357.92,351.62 358.51,354.65 359.01,357.74 359.42,360.86 359.75,364.00" fill="none" stroke="rgb(189,189,189)" stroke-width="1.3" stroke-linejoin="round"/>
<polyline points="309.70,360.50 309.76,354.29 309.89,348.09 310.07,341.88 310.31,335.67 310.59,329.46 310.92,323.26 311.28,317.05 311.69,310.84 312.13,304.64 312.60,298.43 313.11,292.22 313.66,286.01 314.23,279.81 314.84,273.60 319.78,279.27 320.04,281.03 320.30,282.80 320.55,284.57 320.79,286.34 321.02,288.10 321.24,289.87 321.44,291.64 321.64,293.40 321.82,295.17 321.98,296.94 322.12,298.71 322.23,300.47 322.30,302.24 322.51,306.15 323.13,309.54 324.16,312.40 325.61,314.75 327.47,316.57 329.75,317.87 332.44,318.66 335.55,318.92 337.55,319.81 340.05,321.29 342.55,322.90 344.61,324.18 345.90,325.16 347.19,326.36 348.44,327.77 349.67,329.39 350.86,331.20 352.01,333.21 353.10,335.39 354.13,337.74 355.10,340.25 356.00,342.90 356.83,345.67 357.58,348.55 358.24,351.53 358.83,354.58 359.32,357.69 359.73,360.84 360.04,364.00" fill="none" stroke="rgb(197,197,197)" stroke-width="1.3" stroke-linejoin="round"/>
<polyline points="310.20,360.50 310.26,354.30 310.39,348.09 310.57,341.89 310.81,335.69 311.09,329.49 311.41,323.28 311.77,317.08 312.17,310.88 312.61,304.67 313.09,298.47 313.59,292.27 314.13,286.07 314.71,279.86 315.31,273.66 319.85,279.38 320.16,281.11 320.45,282.83 320.73,284.55 321.01,286.28 321.27,288.00 321.52,289.73 321.75,291.45 321.97,293.17 322.17,294.90 322.35,296.62 322.51,298.34 322.64,300.07 322.72,301.79 322.94,305.86 323.58,309.38 324.67,312.36 326.18,314.80 328.13,316.69 330.50,318.05 333.32,318.86 336.56,319.13 338.56,320.29 341.06,321.78 344.77,324.12 346.09,325.07 347.39,326.24 348.67,327.63 349.91,329.23 351.12,331.04 352.28,333.04 353.39,335.22 354.43,337.58 355.41,340.09 356.32,342.75 357.15,345.54 357.90,348.44 358.57,351.44 359.15,354.51 359.63,357.64 360.03,360.81 360.33,364.00" fill="none" stroke="rgb(205,205,205)" stroke-width="1.3" stroke-linejoin="round"/>
<polyline points="310.70,360.50 310.76,354.30 310.89,348.10 311.07,341.90 311.30,335.71 311.58,329.51 311.90,323.31 312.26,317.11 312.66,310.91 313.10,304.71 313.57,298.51 314.07,292.32 314.61,286.12 315.18,279.92 315.78,273.72 319.93,279.50 320.27,281.18 320.60,282.86 320.92,284.54 321.22,286.22 321.51,287.90 321.79,289.58 322.05,291.26 322.30,292.94 322.52,294.62 322.73,296.30 322.91,297.98 323.05,299.66 323.14,301.34 323.37,305.62 324.04,309.32 325.17,312.46 326.75,315.02 328.78,317.01 331.26,318.44 334.19,319.29 337.57,319.58 339.57,320.77 342.07,322.32 344.93,324.06 346.27,324.98 347.59,326.13 348.89,327.49 350.16,329.08 351.38,330.87 352.56,332.87 353.68,335.05 354.74,337.41 355.73,339.93 356.64,342.60 357.48,345.41 358.23,348.33 358.90,351.34 359.47,354.44 359.95,357.59 360.34,360.79 360.62,364.00" fill="none" stroke="rgb(213,213,213)" stroke-width="1.3" stroke-linejoin="round"/>
<polyline points="311.20,360.50 311.26,354.31 311.38,348.11 311.57,341.92 311.80,335.72 312.08,329.53 312.40,323.33 312.76,317.14 313.15,310.95 313.59,304.75 314.05,298.56 314.56,292.36 315.09,286.17 315.66,279.97 316.26,273.78 320.01,279.62 320.38,281.25 320.75,282.89 321.10,284.53 321.44,286.16 321.76,287.80 322.07,289.44 322.36,291.07 322.63,292.71 322.88,294.35 323.10,295.99 323.30,297.62 323.46,299.26 323.56,300.90 323.79,305.39 324.50,309.28 325.67,312.57 327.31,315.27 329.43,317.36 332.01,318.86 335.06,319.76 338.58,320.06 340.58,321.25 343.08,322.91 345.09,324.00 346.45,324.89 347.80,326.01 349.12,327.36 350.40,328.93 351.64,330.71 352.83,332.70 353.97,334.88 355.04,337.24 356.04,339.77 356.96,342.46 357.80,345.27 358.56,348.21 359.22,351.25 359.79,354.36 360.27,357.54 360.64,360.76 360.92,364.00" fill="none" stroke="rgb(221,221,221)" stroke-width="1.3" stroke-linejoin="round"/>
<polyline points="311.70,360.50 311.76,354.31 311.88,348.12 312.07,341.93 312.30,335.74 312.57,329.55 312.89,323.36 313.25,317.17 313.64,310.98 314.07,304.79 314.54,298.60 315.04,292.41 315.57,286.22 316.13,280.03 316.73,273.84 320.09,279.73 320.50,281.33 320.90,282.92 321.28,284.51 321.65,286.11 322.01,287.70 322.34,289.29 322.66,290.89 322.96,292.48 323.23,294.07 323.48,295.67 323.70,297.26 323.87,298.85 323.98,300.45 324.22,305.16 324.96,309.24 326.18,312.69 327.88,315.52 330.08,317.72 332.76,319.29 335.93,320.23 339.59,320.54 341.59,321.75 345.25,323.94 346.64,324.80 348.00,325.89 349.34,327.22 350.64,328.77 351.90,330.54 353.11,332.53 354.26,334.71 355.34,337.08 356.35,339.62 357.28,342.31 358.13,345.14 358.89,348.10 359.55,351.15 360.12,354.29 360.58,357.49 360.95,360.74 361.21,364.00" fill="none" stroke="rgb(229,229,229)" stroke-width="1.3" stroke-linejoin="round"/>
<polyline points="312.20,360.50 312.26,354.31 312.38,348.13 312.56,341.94 312.79,335.76 313.07,329.57 313.38,323.39 313.74,317.20 314.13,311.01 314.56,304.83 315.02,298.64 315.52,292.46 316.05,286.27 316.61,280.09 317.20,273.90 320.16,279.85 320.61,281.40 321.05,282.95 321.47,284.50 321.87,286.05 322.25,287.60 322.62,289.15 322.96,290.70 323.29,292.25 323.59,293.80 323.86,295.35 324.09,296.90 324.28,298.45 324.40,300.00 324.65,304.93 325.41,309.20 326.68,312.81 328.45,315.77 330.73,318.07 333.51,319.71 336.80,320.69 340.60,321.02 342.60,322.33 345.41,323.88 346.82,324.70 348.21,325.77 349.57,327.08 350.89,328.62 352.17,330.38 353.39,332.36 354.55,334.54 355.65,336.91 356.67,339.46 357.61,342.16 358.46,345.01 359.22,347.98 359.88,351.06 360.44,354.22 360.90,357.44 361.25,360.71 361.50,364.00" fill="none" stroke="rgb(237,237,237)" stroke-width="1.3" stroke-linejoin="round"/>
<line x1="300.29" y1="354.75" x2="300.29" y2="364.00" stroke="rgb(143,143,143)" stroke-width="1.2"/>
<line x1="301.76" y1="356.68" x2="301.76" y2="364.00" stroke="rgb(147,147,147)" stroke-width="1.2"/>
<line x1="303.52" y1="356.54" x2="303.52" y2="364.00" stroke="rgb(149,149,149)" stroke-width="1.2"/>
<line x1="305.74" y1="354.35" x2="305.74" y2="364.00" stroke="rgb(160,160,160)" stroke-width="1.2"/>
<line x1="307.50" y1="358.13" x2="307.50" y2="364.00" stroke="rgb(170,170,170)" stroke-width="1.2"/>
<line x1="309.03" y1="357.14" x2="309.03" y2="364.00" stroke="rgb(196,196,196)" stroke-width="1.2"/>
<line x1="311.23" y1="355.98" x2="311.23" y2="364.00" stroke="rgb(206,206,206)" stroke-width="1.2"/>
<line x1="312.36" y1="358.29" x2="312.36" y2="364.00" stroke="rgb(201,201,201)" stroke-width="1.2"/>
<line x1="314.25" y1="354.59" x2="314.25" y2="364.00" stroke="rgb(211,211,211)" stroke-width="1.2"/>
<line x1="316.83" y1="354.90" x2="316.83" y2="364.00" stroke="rgb(225,225,225)" stroke-width="1.2"/>
<line x1="318.39" y1="355.86" x2="318.39" y2="364.00" stroke="rgb(234,234,234)" stroke-width="1.2"/>
<line x1="319.48" y1="354.30" x2="319.48" y2="364.00" stroke="rgb(236,236,236)" stroke-width="1.2"/>
<line x1="294.20" y1="256.60" x2="294.20" y2="364.60" stroke="#484848" stroke-width="1.2"/>
<line x1="294.20" y1="364.00" x2="401.30" y2="364.00" stroke="#484848" stroke-width="1.2"/>
<line x1="290.20" y1="256.60" x2="294.20" y2="256.60" stroke="#484848" stroke-width="1.2"/>
<text x="280.90" y="261.15" font-size="13" text-anchor="start" fill="#1a1a1a">6</text>
<line x1="290.20" y1="292.40" x2="294.20" y2="292.40" stroke="#484848" stroke-width="1.2"/>
<text x="280.77" y="296.89" font-size="13" text-anchor="start" fill="#1a1a1a">4</text>
<line x1="290.20" y1="328.20" x2="294.20" y2="328.20" stroke="#484848" stroke-width="1.2"/>
<text x="281.03" y="332.75" font-size="13" text-anchor="start" fill="#1a1a1a">2</text>
<line x1="290.20" y1="364.00" x2="294.20" y2="364.00" stroke="#484848" stroke-width="1.2"/>
<text x="280.84" y="368.55" font-size="13" text-anchor="start" fill="#1a1a1a">0</text>
<line x1="294.10" y1="364.00" x2="294.10" y2="368.50" stroke="#484848" stroke-width="1.2"/>
<line x1="315.42" y1="364.00" x2="315.42" y2="368.50" stroke="#484848" stroke-width="1.2"/>
<line x1="336.74" y1="364.00" x2="336.74" y2="368.50" stroke="#484848" stroke-width="1.2"/>
<line x1="358.06" y1="364.00" x2="358.06" y2="368.50" stroke="#484848" stroke-width="1.2"/>
<line x1="379.38" y1="364.00" x2="379.38" y2="368.50" stroke="#484848" stroke-width="1.2"/>
<line x1="400.70" y1="364.00" x2="400.70" y2="368.50" stroke="#484848" stroke-width="1.2"/>
<text x="292.46" y="381.10" font-size="13" text-anchor="start" fill="#1a1a1a">0</text>
<text x="305.79" y="381.10" font-size="13" text-anchor="start" fill="#1a1a1a">0.2</text>
<text x="329.75" y="381.10" font-size="13" text-anchor="start" fill="#1a1a1a">0.4</text>
<text x="353.89" y="381.10" font-size="13" text-anchor="start" fill="#1a1a1a">0.6</text>
<text x="377.96" y="381.10" font-size="13" text-anchor="start" fill="#1a1a1a">0.8</text>
<text x="401.88" y="381.10" font-size="13" text-anchor="start" fill="#1a1a1a">1</text>
<text x="307.56" y="400.70" font-size="16" text-anchor="start" fill="#1a1a1a">Intensity (F)</text>
<text x="0" y="0" font-size="16" fill="#1a1a1a" transform="translate(272.20 347.82) rotate(-90)">Log count</text>
<line x1="363.40" y1="264.40" x2="363.40" y2="309.60" stroke="#222" stroke-width="1.3"/>
<line x1="362.80" y1="309.00" x2="422.00" y2="309.00" stroke="#222" stroke-width="1.3"/>
<line x1="373.60" y1="263.90" x2="413.00" y2="295.90" stroke="#222" stroke-width="1.5"/>
<line x1="373.60" y1="295.90" x2="413.80" y2="266.40" stroke="#222" stroke-width="1.2" stroke-dasharray="1.6 2.2"/>
<rect x="369.20" y="313.10" width="3.6" height="6.2" fill="rgb(46,46,46)"/>
<rect x="374.00" y="313.10" width="3.6" height="6.2" fill="rgb(68,68,68)"/>
<rect x="378.80" y="313.10" width="3.6" height="6.2" fill="rgb(91,91,91)"/>
<rect x="383.60" y="313.10" width="3.6" height="6.2" fill="rgb(113,113,113)"/>
<rect x="388.40" y="313.10" width="3.6" height="6.2" fill="rgb(135,135,135)"/>
<rect x="393.20" y="313.10" width="3.6" height="6.2" fill="rgb(158,158,158)"/>
<rect x="398.00" y="313.10" width="3.6" height="6.2" fill="rgb(180,180,180)"/>
<rect x="402.80" y="313.10" width="3.6" height="6.2" fill="rgb(203,203,203)"/>
<rect x="407.60" y="313.10" width="3.6" height="6.2" fill="rgb(225,225,225)"/>
<rect x="412.40" y="313.10" width="3.6" height="6.2" fill="rgb(247,247,247)"/>
<text x="355.80" y="331.10" font-size="13.3" text-anchor="start" fill="#1a1a1a">Observations</text>
<text x="0" y="0" font-size="13" fill="#1a1a1a" transform="translate(358.00 315.60) rotate(-90)">Amplitude</text>
<text x="514.03" y="253.60" font-size="13.4" text-anchor="start" fill="#1a1a1a">Post</text>
<polyline points="518.30,363.50 518.33,361.74 518.36,359.41 518.40,356.60 518.46,353.40 518.56,349.90 518.70,346.20 518.90,342.22 519.14,337.88 519.42,333.24 519.71,328.37 520.01,323.34 520.30,318.20 520.58,312.61 520.87,306.46 521.17,300.14 521.46,294.05 521.74,288.61 522.00,284.20 522.24,280.96 522.45,278.59 522.66,276.85 522.86,275.53 523.07,274.39 523.30,273.20 523.55,272.04 523.80,271.11 524.07,270.36 524.34,269.76 524.62,269.25 524.90,268.80 525.19,268.43 525.49,268.17 525.80,268.02 526.11,267.95 526.41,267.95 526.70,268.00 526.99,268.11 527.27,268.28 527.56,268.52 527.83,268.83 528.08,269.23 528.30,269.70 528.50,270.20 528.67,270.71 528.82,271.31 528.96,272.04 529.08,272.98 529.20,274.20 529.31,275.78 529.40,277.68 529.48,279.79 529.56,282.00 529.63,284.17 529.70,286.20 529.76,288.14 529.81,290.11 529.85,292.04 529.90,293.90 529.98,295.64 530.10,297.20 530.24,298.54 530.39,299.69 530.56,300.72 530.77,301.69 531.05,302.66 531.40,303.70 531.83,304.84 532.31,306.03 532.86,307.22 533.47,308.37 534.15,309.45 534.90,310.40 535.73,311.20 536.64,311.88 537.62,312.48 538.67,313.04 539.76,313.60 540.90,314.20 542.12,314.85 543.44,315.53 544.81,316.20 546.19,316.85 547.54,317.46 548.80,318.00 550.05,318.48 551.34,318.93 552.59,319.34 553.74,319.69 554.70,319.98 555.40,320.20" fill="none" stroke="rgb(242,242,242)" stroke-width="0.9" stroke-linejoin="round"/>
<polyline points="517.99,363.50 518.02,361.73 518.05,359.38 518.09,356.55 518.15,353.32 518.25,349.81 518.39,346.09 518.59,342.11 518.83,337.76 519.11,333.13 519.41,328.26 519.70,323.23 519.99,318.09 520.27,312.51 520.56,306.35 520.86,300.03 521.15,293.94 521.43,288.50 521.69,284.09 521.93,280.85 522.14,278.48 522.35,276.74 522.55,275.42 522.76,274.28 522.99,273.09 523.24,271.93 523.49,271.00 523.76,270.25 524.03,269.65 524.31,269.14 524.59,268.69 524.88,268.32 525.18,268.06 525.49,267.91 525.80,267.84 526.10,267.84 526.39,267.89 526.68,268.00 526.96,268.17 527.25,268.41 527.52,268.72 527.77,269.12 527.99,269.59 528.19,270.09 528.36,270.61 528.51,271.20 528.65,271.93 528.77,272.87 528.89,274.09 529.00,275.67 529.09,277.57 529.17,279.68 529.25,281.89 529.32,284.06 529.39,286.09 529.45,288.03 529.50,290.00 529.54,291.93 529.59,293.79 529.67,295.53 529.79,297.09 529.93,298.43 530.08,299.58 530.25,300.61 530.46,301.58 530.74,302.55 531.09,303.59 531.52,304.73 532.00,305.92 532.55,307.11 533.16,308.26 533.84,309.34 534.59,310.29 535.42,311.09 536.34,311.77 537.32,312.37 538.36,312.93 539.45,313.49 540.59,314.09 541.81,314.74 543.13,315.42 544.50,316.09 545.88,316.74 547.23,317.35 548.49,317.89 549.74,318.38 551.03,318.82 552.28,319.23 553.43,319.58 554.39,319.87 555.09,320.09" fill="none" stroke="rgb(226,226,226)" stroke-width="0.9" stroke-linejoin="round"/>
<polyline points="517.68,363.50 517.71,361.72 517.74,359.35 517.78,356.49 517.84,353.25 517.94,349.71 518.08,345.98 518.28,341.99 518.52,337.65 518.80,333.01 519.10,328.15 519.40,323.12 519.68,317.98 519.96,312.40 520.26,306.24 520.55,299.92 520.84,293.83 521.12,288.39 521.38,283.98 521.62,280.74 521.83,278.37 522.04,276.63 522.24,275.31 522.45,274.17 522.68,272.98 522.93,271.82 523.19,270.89 523.45,270.14 523.72,269.54 524.00,269.03 524.28,268.58 524.57,268.21 524.87,267.96 525.18,267.80 525.49,267.73 525.79,267.73 526.08,267.78 526.37,267.89 526.66,268.06 526.94,268.30 527.21,268.62 527.46,269.01 527.68,269.48 527.88,269.98 528.05,270.50 528.20,271.09 528.34,271.82 528.46,272.77 528.58,273.98 528.69,275.56 528.78,277.46 528.86,279.58 528.94,281.78 529.01,283.95 529.08,285.98 529.14,287.93 529.19,289.89 529.23,291.83 529.29,293.69 529.36,295.42 529.48,296.98 529.62,298.32 529.77,299.47 529.94,300.50 530.15,301.47 530.43,302.44 530.78,303.48 531.21,304.62 531.69,305.81 532.24,307.00 532.85,308.16 533.53,309.23 534.28,310.18 535.12,310.98 536.03,311.66 537.01,312.26 538.05,312.82 539.14,313.38 540.28,313.98 541.50,314.63 542.82,315.31 544.19,315.98 545.57,316.63 546.92,317.24 548.18,317.78 549.43,318.27 550.72,318.72 551.98,319.12 553.12,319.47 554.08,319.76 554.78,319.98" fill="none" stroke="rgb(210,210,210)" stroke-width="0.9" stroke-linejoin="round"/>
<polyline points="517.37,363.50 517.40,361.70 517.43,359.31 517.47,356.44 517.54,353.17 517.63,349.61 517.77,345.87 517.97,341.88 518.21,337.53 518.49,332.90 518.79,328.03 519.09,323.01 519.37,317.87 519.65,312.29 519.95,306.13 520.24,299.81 520.53,293.72 520.81,288.28 521.07,283.87 521.31,280.63 521.52,278.26 521.73,276.52 521.93,275.20 522.14,274.06 522.37,272.87 522.62,271.72 522.88,270.78 523.14,270.04 523.41,269.43 523.69,268.92 523.97,268.47 524.26,268.10 524.57,267.85 524.87,267.69 525.18,267.62 525.48,267.62 525.77,267.67 526.06,267.78 526.35,267.95 526.63,268.19 526.90,268.51 527.15,268.90 527.37,269.37 527.57,269.87 527.74,270.39 527.89,270.98 528.03,271.71 528.15,272.66 528.27,273.87 528.38,275.45 528.47,277.35 528.55,279.47 528.63,281.67 528.70,283.84 528.77,285.87 528.83,287.82 528.88,289.78 528.92,291.72 528.98,293.58 529.06,295.31 529.17,296.87 529.31,298.21 529.46,299.37 529.63,300.39 529.84,301.36 530.12,302.33 530.47,303.37 530.90,304.51 531.38,305.70 531.93,306.89 532.54,308.05 533.22,309.12 533.97,310.07 534.81,310.87 535.72,311.55 536.70,312.15 537.74,312.71 538.83,313.27 539.97,313.87 541.19,314.52 542.51,315.20 543.89,315.87 545.27,316.52 546.61,317.13 547.87,317.67 549.12,318.16 550.41,318.61 551.67,319.01 552.81,319.36 553.77,319.65 554.47,319.87" fill="none" stroke="rgb(194,194,194)" stroke-width="0.9" stroke-linejoin="round"/>
<polyline points="517.06,363.50 517.09,361.69 517.12,359.28 517.16,356.38 517.23,353.09 517.32,349.52 517.46,345.76 517.66,341.76 517.90,337.41 518.18,332.78 518.48,327.92 518.78,322.90 519.06,317.76 519.35,312.18 519.64,306.02 519.93,299.70 520.22,293.62 520.50,288.17 520.76,283.76 521.00,280.52 521.22,278.15 521.42,276.41 521.62,275.09 521.83,273.95 522.06,272.76 522.31,271.61 522.57,270.67 522.83,269.93 523.10,269.32 523.38,268.81 523.66,268.36 523.95,267.99 524.26,267.74 524.56,267.58 524.87,267.51 525.17,267.51 525.46,267.56 525.75,267.67 526.04,267.84 526.32,268.08 526.59,268.40 526.84,268.79 527.06,269.26 527.26,269.76 527.43,270.28 527.58,270.87 527.72,271.60 527.84,272.55 527.96,273.76 528.07,275.34 528.16,277.25 528.24,279.36 528.32,281.56 528.39,283.73 528.46,285.76 528.53,287.71 528.57,289.67 528.61,291.61 528.67,293.47 528.75,295.20 528.86,296.76 529.00,298.11 529.15,299.26 529.32,300.28 529.53,301.25 529.81,302.22 530.16,303.26 530.59,304.40 531.07,305.59 531.62,306.78 532.23,307.94 532.91,309.01 533.66,309.96 534.50,310.76 535.41,311.45 536.39,312.04 537.43,312.60 538.52,313.16 539.66,313.76 540.89,314.42 542.20,315.09 543.58,315.76 544.96,316.42 546.30,317.02 547.56,317.56 548.82,318.05 550.10,318.50 551.36,318.90 552.50,319.25 553.46,319.54 554.16,319.76" fill="none" stroke="rgb(177,177,177)" stroke-width="0.9" stroke-linejoin="round"/>
<polyline points="516.75,363.50 516.78,361.68 516.81,359.25 516.85,356.33 516.92,353.02 517.01,349.42 517.15,345.65 517.35,341.64 517.60,337.30 517.87,332.66 518.17,327.81 518.47,322.79 518.75,317.65 519.04,312.07 519.33,305.91 519.62,299.59 519.91,293.51 520.19,288.06 520.45,283.65 520.69,280.41 520.91,278.04 521.11,276.30 521.31,274.98 521.53,273.84 521.75,272.65 522.00,271.50 522.26,270.57 522.52,269.82 522.80,269.21 523.07,268.70 523.35,268.25 523.65,267.88 523.95,267.63 524.25,267.47 524.56,267.40 524.86,267.40 525.15,267.45 525.44,267.56 525.73,267.73 526.01,267.97 526.28,268.29 526.53,268.68 526.75,269.15 526.95,269.66 527.12,270.17 527.27,270.76 527.41,271.50 527.54,272.44 527.65,273.65 527.76,275.23 527.85,277.14 527.94,279.25 528.01,281.45 528.08,283.63 528.15,285.65 528.22,287.60 528.26,289.56 528.30,291.50 528.36,293.36 528.44,295.09 528.55,296.65 528.69,298.00 528.84,299.15 529.01,300.17 529.22,301.14 529.50,302.11 529.85,303.15 530.28,304.29 530.77,305.48 531.31,306.67 531.92,307.83 532.60,308.90 533.35,309.85 534.19,310.66 535.10,311.34 536.08,311.94 537.12,312.50 538.22,313.05 539.35,313.65 540.58,314.31 541.90,314.98 543.27,315.65 544.65,316.31 545.99,316.91 547.25,317.45 548.51,317.94 549.80,318.39 551.05,318.79 552.19,319.14 553.15,319.43 553.85,319.65" fill="none" stroke="rgb(161,161,161)" stroke-width="0.9" stroke-linejoin="round"/>
<polyline points="516.45,363.50 516.48,361.66 516.50,359.22 516.55,356.27 516.61,352.94 516.70,349.33 516.85,345.55 517.04,341.53 517.29,337.18 517.56,332.55 517.86,327.70 518.16,322.68 518.45,317.55 518.73,311.96 519.02,305.80 519.31,299.48 519.60,293.40 519.88,287.95 520.15,283.55 520.38,280.30 520.60,277.93 520.80,276.20 521.00,274.87 521.22,273.73 521.45,272.55 521.69,271.39 521.95,270.46 522.21,269.71 522.49,269.10 522.76,268.59 523.05,268.15 523.34,267.77 523.64,267.52 523.95,267.36 524.25,267.29 524.55,267.29 524.85,267.35 525.13,267.45 525.42,267.62 525.70,267.86 525.97,268.18 526.22,268.57 526.45,269.05 526.64,269.55 526.81,270.06 526.96,270.65 527.10,271.39 527.23,272.33 527.35,273.55 527.45,275.12 527.55,277.03 527.63,279.14 527.70,281.34 527.77,283.52 527.85,285.55 527.91,287.49 527.95,289.45 528.00,291.39 528.05,293.25 528.13,294.98 528.25,296.55 528.38,297.89 528.53,299.04 528.70,300.06 528.92,301.03 529.19,302.00 529.55,303.05 529.97,304.18 530.46,305.37 531.00,306.56 531.61,307.72 532.29,308.79 533.05,309.75 533.88,310.55 534.79,311.23 535.77,311.83 536.81,312.39 537.91,312.95 539.05,313.55 540.27,314.20 541.59,314.87 542.96,315.55 544.34,316.20 545.68,316.80 546.95,317.35 548.20,317.83 549.49,318.28 550.74,318.68 551.88,319.03 552.84,319.32 553.55,319.55" fill="none" stroke="rgb(145,145,145)" stroke-width="0.9" stroke-linejoin="round"/>
<polyline points="516.14,363.50 516.17,361.65 516.20,359.18 516.24,356.22 516.30,352.86 516.40,349.23 516.54,345.44 516.73,341.41 516.98,337.06 517.26,332.43 517.55,327.58 517.85,322.57 518.14,317.44 518.42,311.85 518.71,305.70 519.01,299.37 519.30,293.29 519.58,287.84 519.84,283.44 520.07,280.20 520.29,277.82 520.49,276.09 520.70,274.76 520.91,273.62 521.14,272.44 521.38,271.28 521.64,270.35 521.91,269.60 522.18,268.99 522.45,268.48 522.74,268.04 523.03,267.67 523.33,267.41 523.64,267.26 523.94,267.18 524.25,267.18 524.54,267.24 524.82,267.34 525.11,267.51 525.39,267.76 525.66,268.07 525.91,268.46 526.14,268.94 526.33,269.44 526.50,269.95 526.66,270.54 526.79,271.28 526.92,272.22 527.04,273.44 527.14,275.01 527.24,276.92 527.32,279.03 527.39,281.23 527.46,283.41 527.54,285.44 527.60,287.38 527.64,289.34 527.69,291.28 527.74,293.14 527.82,294.88 527.94,296.44 528.08,297.78 528.22,298.93 528.39,299.96 528.61,300.92 528.88,301.89 529.24,302.94 529.66,304.08 530.15,305.26 530.69,306.46 531.30,307.61 531.98,308.69 532.74,309.64 533.57,310.44 534.48,311.12 535.46,311.72 536.50,312.28 537.60,312.84 538.74,313.44 539.96,314.09 541.28,314.76 542.65,315.44 544.03,316.09 545.37,316.70 546.64,317.24 547.89,317.72 549.18,318.17 550.43,318.57 551.57,318.93 552.53,319.22 553.24,319.44" fill="none" stroke="rgb(129,129,129)" stroke-width="0.9" stroke-linejoin="round"/>
<polyline points="515.83,363.50 515.86,361.64 515.89,359.15 515.93,356.16 515.99,352.79 516.09,349.14 516.23,345.33 516.42,341.30 516.67,336.94 516.95,332.32 517.24,327.47 517.54,322.45 517.83,317.33 518.11,311.74 518.40,305.59 518.70,299.26 518.99,293.18 519.27,287.73 519.53,283.33 519.76,280.09 519.98,277.71 520.18,275.98 520.39,274.65 520.60,273.51 520.83,272.33 521.07,271.17 521.33,270.24 521.60,269.49 521.87,268.88 522.15,268.38 522.43,267.93 522.72,267.56 523.02,267.30 523.33,267.15 523.63,267.08 523.94,267.07 524.23,267.13 524.51,267.23 524.80,267.41 525.08,267.65 525.35,267.96 525.60,268.35 525.83,268.83 526.02,269.33 526.19,269.84 526.35,270.43 526.48,271.17 526.61,272.11 526.73,273.33 526.83,274.90 526.93,276.81 527.01,278.92 527.08,281.12 527.15,283.30 527.23,285.33 527.29,287.27 527.33,289.23 527.38,291.17 527.43,293.03 527.51,294.77 527.63,296.33 527.77,297.67 527.91,298.82 528.08,299.85 528.30,300.81 528.57,301.78 528.93,302.83 529.35,303.97 529.84,305.15 530.38,306.35 530.99,307.50 531.67,308.58 532.43,309.53 533.26,310.33 534.17,311.01 535.15,311.61 536.19,312.17 537.29,312.73 538.43,313.33 539.65,313.98 540.97,314.65 542.34,315.33 543.72,315.98 545.06,316.59 546.33,317.13 547.58,317.61 548.87,318.06 550.12,318.46 551.26,318.82 552.22,319.11 552.93,319.33" fill="none" stroke="rgb(112,112,112)" stroke-width="0.9" stroke-linejoin="round"/>
<polyline points="515.52,363.50 515.55,361.62 515.58,359.12 515.62,356.11 515.68,352.71 515.78,349.04 515.92,345.22 516.11,341.18 516.36,336.83 516.64,332.20 516.93,327.36 517.23,322.34 517.52,317.22 517.80,311.63 518.09,305.48 518.39,299.16 518.68,293.07 518.96,287.62 519.22,283.22 519.45,279.98 519.67,277.60 519.87,275.87 520.08,274.54 520.29,273.40 520.52,272.22 520.77,271.06 521.02,270.13 521.29,269.38 521.56,268.77 521.84,268.27 522.12,267.82 522.41,267.45 522.71,267.19 523.02,267.04 523.33,266.97 523.63,266.97 523.92,267.02 524.20,267.12 524.49,267.30 524.77,267.54 525.04,267.85 525.29,268.24 525.52,268.72 525.71,269.22 525.88,269.73 526.04,270.32 526.17,271.06 526.30,272.00 526.42,273.22 526.53,274.80 526.62,276.70 526.70,278.81 526.77,281.01 526.85,283.19 526.92,285.22 526.98,287.16 527.03,289.13 527.07,291.06 527.12,292.92 527.20,294.66 527.32,296.22 527.46,297.56 527.60,298.71 527.77,299.74 527.99,300.70 528.26,301.68 528.62,302.72 529.05,303.86 529.53,305.04 530.07,306.24 530.68,307.39 531.36,308.47 532.12,309.42 532.95,310.22 533.86,310.90 534.84,311.50 535.88,312.06 536.98,312.62 538.12,313.22 539.34,313.87 540.66,314.54 542.03,315.22 543.41,315.87 544.75,316.48 546.02,317.02 547.27,317.50 548.56,317.95 549.81,318.36 550.96,318.71 551.92,319.00 552.62,319.22" fill="none" stroke="rgb(96,96,96)" stroke-width="0.9" stroke-linejoin="round"/>
<polyline points="515.21,363.50 515.24,361.61 515.27,359.09 515.31,356.05 515.37,352.63 515.47,348.94 515.61,345.11 515.81,341.07 516.05,336.71 516.33,332.08 516.62,327.24 516.92,322.23 517.21,317.11 517.49,311.52 517.78,305.37 518.08,299.05 518.37,292.96 518.65,287.51 518.91,283.11 519.15,279.87 519.36,277.49 519.57,275.76 519.77,274.44 519.98,273.29 520.21,272.11 520.46,270.95 520.71,270.02 520.98,269.27 521.25,268.66 521.53,268.16 521.81,267.71 522.10,267.34 522.40,267.08 522.71,266.93 523.02,266.86 523.32,266.86 523.61,266.91 523.90,267.02 524.18,267.19 524.47,267.43 524.74,267.74 524.99,268.13 525.21,268.61 525.40,269.11 525.58,269.62 525.73,270.22 525.86,270.95 525.99,271.89 526.11,273.11 526.22,274.69 526.31,276.59 526.39,278.70 526.46,280.91 526.54,283.08 526.61,285.11 526.67,287.05 526.72,289.02 526.76,290.95 526.81,292.81 526.89,294.55 527.01,296.11 527.15,297.45 527.29,298.60 527.47,299.63 527.68,300.59 527.95,301.57 528.31,302.61 528.74,303.75 529.22,304.94 529.77,306.13 530.38,307.28 531.06,308.36 531.81,309.31 532.64,310.11 533.55,310.79 534.53,311.39 535.58,311.95 536.67,312.51 537.81,313.11 539.03,313.76 540.35,314.44 541.72,315.11 543.10,315.76 544.45,316.37 545.71,316.91 546.96,317.39 548.25,317.84 549.50,318.25 550.65,318.60 551.61,318.89 552.31,319.11" fill="none" stroke="rgb(80,80,80)" stroke-width="0.9" stroke-linejoin="round"/>
<polyline points="514.90,363.50 514.93,361.60 514.96,359.06 515.00,356.00 515.06,352.56 515.16,348.85 515.30,345.00 515.50,340.95 515.74,336.59 516.02,331.97 516.31,327.13 516.61,322.12 516.90,317.00 517.18,311.41 517.47,305.26 517.77,298.94 518.06,292.85 518.34,287.41 518.60,283.00 518.84,279.76 519.05,277.39 519.26,275.65 519.46,274.33 519.67,273.19 519.90,272.00 520.15,270.84 520.40,269.91 520.67,269.16 520.94,268.56 521.22,268.05 521.50,267.60 521.79,267.23 522.09,266.97 522.40,266.82 522.71,266.75 523.01,266.75 523.30,266.80 523.59,266.91 523.87,267.08 524.16,267.32 524.43,267.63 524.68,268.03 524.90,268.50 525.10,269.00 525.27,269.51 525.42,270.11 525.56,270.84 525.68,271.78 525.80,273.00 525.91,274.58 526.00,276.48 526.08,278.59 526.16,280.80 526.23,282.97 526.30,285.00 526.36,286.94 526.41,288.91 526.45,290.84 526.50,292.70 526.58,294.44 526.70,296.00 526.84,297.34 526.99,298.49 527.16,299.52 527.37,300.49 527.65,301.46 528.00,302.50 528.43,303.64 528.91,304.83 529.46,306.02 530.07,307.17 530.75,308.25 531.50,309.20 532.33,310.00 533.24,310.68 534.23,311.28 535.27,311.84 536.36,312.40 537.50,313.00 538.72,313.65 540.04,314.33 541.41,315.00 542.79,315.65 544.14,316.26 545.40,316.80 546.65,317.28 547.94,317.73 549.19,318.14 550.34,318.49 551.30,318.78 552.00,319.00" fill="none" stroke="rgb(64,64,64)" stroke-width="0.9" stroke-linejoin="round"/>
<polyline points="541.00,315.80 542.60,318.00 542.93,319.15 543.17,320.31 543.39,321.46 543.60,322.62 543.79,323.77 543.98,324.93 544.16,326.08 544.34,327.24 544.51,328.39 544.68,329.55 544.84,330.70 545.00,331.86 545.16,333.01 545.32,334.17 545.47,335.32 545.63,336.48 545.78,337.63 545.93,338.79 546.07,339.94 546.22,341.10 546.36,342.25 546.51,343.41 546.65,344.56 546.79,345.72 546.93,346.88 547.06,348.03 547.20,349.19 547.34,350.34 547.47,351.50 547.60,352.65 547.74,353.81 547.87,354.96 548.00,356.12 548.13,357.27 548.26,358.43 548.39,359.58 548.52,360.74 548.65,361.89 548.77,363.05 548.90,364.20" fill="none" stroke="rgb(235,235,235)" stroke-width="2.1" stroke-linejoin="round"/>
<polyline points="541.00,315.80 542.50,316.17 544.00,316.53 545.49,318.00 545.82,319.15 546.06,320.31 546.28,321.46 546.49,322.62 546.68,323.77 546.87,324.93 547.05,326.08 547.23,327.24 547.40,328.39 547.57,329.55 547.73,330.70 547.89,331.86 548.05,333.01 548.21,334.17 548.36,335.32 548.52,336.48 548.67,337.63 548.81,338.79 548.96,339.94 549.11,341.10 549.25,342.25 549.39,343.41 549.54,344.56 549.68,345.72 549.81,346.88 549.95,348.03 550.09,349.19 550.22,350.34 550.36,351.50 550.49,352.65 550.63,353.81 550.76,354.96 550.89,356.12 551.02,357.27 551.15,358.43 551.28,359.58 551.41,360.74 551.54,361.89 551.66,363.05 551.79,364.20" fill="none" stroke="rgb(215,215,215)" stroke-width="2.1" stroke-linejoin="round"/>
<polyline points="541.00,315.80 542.50,316.17 544.00,316.53 545.50,316.90 547.00,317.56 548.71,319.15 548.95,320.31 549.17,321.46 549.38,322.62 549.57,323.77 549.76,324.93 549.94,326.08 550.12,327.24 550.29,328.39 550.46,329.55 550.62,330.70 550.78,331.86 550.94,333.01 551.10,334.17 551.25,335.32 551.40,336.48 551.56,337.63 551.70,338.79 551.85,339.94 552.00,341.10 552.14,342.25 552.28,343.41 552.42,344.56 552.56,345.72 552.70,346.88 552.84,348.03 552.98,349.19 553.11,350.34 553.25,351.50 553.38,352.65 553.52,353.81 553.65,354.96 553.78,356.12 553.91,357.27 554.04,358.43 554.17,359.58 554.30,360.74 554.42,361.89 554.55,363.05 554.68,364.20" fill="none" stroke="rgb(195,195,195)" stroke-width="2.1" stroke-linejoin="round"/>
<polyline points="541.00,315.80 542.50,316.17 544.00,316.53 545.50,316.90 547.00,317.56 548.50,318.31 550.00,319.07 551.84,320.31 552.06,321.46 552.27,322.62 552.46,323.77 552.65,324.93 552.83,326.08 553.01,327.24 553.18,328.39 553.34,329.55 553.51,330.70 553.67,331.86 553.83,333.01 553.99,334.17 554.14,335.32 554.29,336.48 554.44,337.63 554.59,338.79 554.74,339.94 554.89,341.10 555.03,342.25 555.17,343.41 555.31,344.56 555.45,345.72 555.59,346.88 555.73,348.03 555.87,349.19 556.00,350.34 556.14,351.50 556.27,352.65 556.40,353.81 556.54,354.96 556.67,356.12 556.80,357.27 556.93,358.43 557.06,359.58 557.19,360.74 557.31,361.89 557.44,363.05 557.57,364.20" fill="none" stroke="rgb(175,175,175)" stroke-width="2.1" stroke-linejoin="round"/>
<polyline points="541.00,315.80 542.50,316.17 544.00,316.53 545.50,316.90 547.00,317.56 548.50,318.31 550.00,319.07 551.50,319.83 553.00,320.58 554.50,321.34 555.15,322.62 555.35,323.77 555.54,324.93 555.72,326.08 555.89,327.24 556.07,328.39 556.23,329.55 556.40,330.70 556.56,331.86 556.72,333.01 556.88,334.17 557.03,335.32 557.18,336.48 557.33,337.63 557.48,338.79 557.63,339.94 557.77,341.10 557.92,342.25 558.06,343.41 558.20,344.56 558.34,345.72 558.48,346.88 558.62,348.03 558.76,349.19 558.89,350.34 559.03,351.50 559.16,352.65 559.29,353.81 559.43,354.96 559.56,356.12 559.69,357.27 559.82,358.43 559.95,359.58 560.07,360.74 560.20,361.89 560.33,363.05 560.46,364.20" fill="none" stroke="rgb(155,155,155)" stroke-width="2.1" stroke-linejoin="round"/>
<polyline points="541.00,315.80 542.50,316.17 544.00,316.53 545.50,316.90 547.00,317.56 548.50,318.31 550.00,319.07 551.50,319.83 553.00,320.58 554.50,321.34 556.00,322.10 557.50,323.42 558.43,324.93 558.61,326.08 558.78,327.24 558.95,328.39 559.12,329.55 559.29,330.70 559.45,331.86 559.61,333.01 559.76,334.17 559.92,335.32 560.07,336.48 560.22,337.63 560.37,338.79 560.52,339.94 560.66,341.10 560.81,342.25 560.95,343.41 561.09,344.56 561.23,345.72 561.37,346.88 561.51,348.03 561.64,349.19 561.78,350.34 561.92,351.50 562.05,352.65 562.18,353.81 562.31,354.96 562.45,356.12 562.58,357.27 562.71,358.43 562.84,359.58 562.96,360.74 563.09,361.89 563.22,363.05 563.34,364.20" fill="none" stroke="rgb(135,135,135)" stroke-width="2.1" stroke-linejoin="round"/>
<polyline points="541.00,315.80 542.50,316.17 544.00,316.53 545.50,316.90 547.00,317.56 548.50,318.31 550.00,319.07 551.50,319.83 553.00,320.58 554.50,321.34 556.00,322.10 557.50,323.42 559.00,325.40 560.50,327.38 562.01,329.55 562.18,330.70 562.34,331.86 562.50,333.01 562.65,334.17 562.81,335.32 562.96,336.48 563.11,337.63 563.26,338.79 563.41,339.94 563.55,341.10 563.70,342.25 563.84,343.41 563.98,344.56 564.12,345.72 564.26,346.88 564.40,348.03 564.53,349.19 564.67,350.34 564.80,351.50 564.94,352.65 565.07,353.81 565.20,354.96 565.33,356.12 565.47,357.27 565.60,358.43 565.72,359.58 565.85,360.74 565.98,361.89 566.11,363.05 566.23,364.20" fill="none" stroke="rgb(116,116,116)" stroke-width="2.1" stroke-linejoin="round"/>
<polyline points="541.00,315.80 542.50,316.17 544.00,316.53 545.50,316.90 547.00,317.56 548.50,318.31 550.00,319.07 551.50,319.83 553.00,320.58 554.50,321.34 556.00,322.10 557.50,323.42 559.00,325.40 560.50,327.38 562.00,329.35 563.50,331.40 565.00,334.40 565.85,336.48 566.00,337.63 566.15,338.79 566.30,339.94 566.44,341.10 566.58,342.25 566.73,343.41 566.87,344.56 567.01,345.72 567.15,346.88 567.29,348.03 567.42,349.19 567.56,350.34 567.69,351.50 567.83,352.65 567.96,353.81 568.09,354.96 568.22,356.12 568.35,357.27 568.48,358.43 568.61,359.58 568.74,360.74 568.87,361.89 569.00,363.05 569.12,364.20" fill="none" stroke="rgb(96,96,96)" stroke-width="2.1" stroke-linejoin="round"/>
<polyline points="541.00,315.80 542.50,316.17 544.00,316.53 545.50,316.90 547.00,317.56 548.50,318.31 550.00,319.07 551.50,319.83 553.00,320.58 554.50,321.34 556.00,322.10 557.50,323.42 559.00,325.40 560.50,327.38 562.00,329.35 563.50,331.40 565.00,334.40 566.50,337.40 568.00,340.54 569.90,345.72 570.04,346.88 570.17,348.03 570.31,349.19 570.45,350.34 570.58,351.50 570.72,352.65 570.85,353.81 570.98,354.96 571.11,356.12 571.24,357.27 571.37,358.43 571.50,359.58 571.63,360.74 571.76,361.89 571.88,363.05 572.01,364.20" fill="none" stroke="rgb(76,76,76)" stroke-width="2.1" stroke-linejoin="round"/>
<polyline points="541.00,315.80 542.50,316.17 544.00,316.53 545.50,316.90 547.00,317.56 548.50,318.31 550.00,319.07 551.50,319.83 553.00,320.58 554.50,321.34 556.00,322.10 557.50,323.42 559.00,325.40 560.50,327.38 562.00,329.35 563.50,331.40 565.00,334.40 566.50,337.40 568.00,340.54 569.50,344.62 571.00,348.70 572.50,358.38 574.00,366.00 574.90,364.20" fill="none" stroke="rgb(56,56,56)" stroke-width="2.1" stroke-linejoin="round"/>
<line x1="508.30" y1="254.80" x2="508.30" y2="364.80" stroke="#8a8a8a" stroke-width="1.2"/>
<line x1="508.30" y1="364.20" x2="618.00" y2="364.20" stroke="#8a8a8a" stroke-width="1.2"/>
<line x1="504.30" y1="254.80" x2="508.30" y2="254.80" stroke="#484848" stroke-width="1.2"/>
<text x="495.00" y="259.35" font-size="13" text-anchor="start" fill="#1a1a1a">6</text>
<line x1="504.30" y1="291.27" x2="508.30" y2="291.27" stroke="#484848" stroke-width="1.2"/>
<text x="494.88" y="295.75" font-size="13" text-anchor="start" fill="#1a1a1a">4</text>
<line x1="504.30" y1="327.73" x2="508.30" y2="327.73" stroke="#484848" stroke-width="1.2"/>
<text x="495.13" y="332.28" font-size="13" text-anchor="start" fill="#1a1a1a">2</text>
<line x1="504.30" y1="364.20" x2="508.30" y2="364.20" stroke="#484848" stroke-width="1.2"/>
<text x="494.94" y="368.75" font-size="13" text-anchor="start" fill="#1a1a1a">0</text>
<line x1="508.30" y1="364.20" x2="508.30" y2="368.70" stroke="#484848" stroke-width="1.2"/>
<line x1="530.12" y1="364.20" x2="530.12" y2="368.70" stroke="#484848" stroke-width="1.2"/>
<line x1="551.94" y1="364.20" x2="551.94" y2="368.70" stroke="#484848" stroke-width="1.2"/>
<line x1="573.76" y1="364.20" x2="573.76" y2="368.70" stroke="#484848" stroke-width="1.2"/>
<line x1="595.58" y1="364.20" x2="595.58" y2="368.70" stroke="#484848" stroke-width="1.2"/>
<line x1="617.40" y1="364.20" x2="617.40" y2="368.70" stroke="#484848" stroke-width="1.2"/>
<text x="504.86" y="381.10" font-size="13" text-anchor="start" fill="#1a1a1a">0</text>
<text x="518.19" y="381.10" font-size="13" text-anchor="start" fill="#1a1a1a">0.2</text>
<text x="542.15" y="381.10" font-size="13" text-anchor="start" fill="#1a1a1a">0.4</text>
<text x="566.30" y="381.10" font-size="13" text-anchor="start" fill="#1a1a1a">0.6</text>
<text x="590.37" y="381.10" font-size="13" text-anchor="start" fill="#1a1a1a">0.8</text>
<text x="614.28" y="381.10" font-size="13" text-anchor="start" fill="#1a1a1a">1</text>
<text x="506.56" y="401.60" font-size="16" text-anchor="start" fill="#1a1a1a">Norm. Intensity</text>
<text x="0" y="0" font-size="16" fill="#1a1a1a" transform="translate(486.40 347.82) rotate(-90)">Log count</text>
<line x1="70.10" y1="515.20" x2="577.90" y2="515.20" stroke="#484848" stroke-width="1.2"/>
<line x1="70.10" y1="431.10" x2="70.10" y2="520.00" stroke="#484848" stroke-width="1.2"/>
<line x1="65.90" y1="431.10" x2="70.10" y2="431.10" stroke="#484848" stroke-width="1.2"/>
<line x1="65.90" y1="459.20" x2="70.10" y2="459.20" stroke="#484848" stroke-width="1.2"/>
<line x1="65.90" y1="487.30" x2="70.10" y2="487.30" stroke="#484848" stroke-width="1.2"/>
<line x1="65.90" y1="515.20" x2="70.10" y2="515.20" stroke="#484848" stroke-width="1.2"/>
<line x1="81.90" y1="515.20" x2="81.90" y2="520.00" stroke="#484848" stroke-width="1.2"/>
<line x1="94.12" y1="515.20" x2="94.12" y2="520.00" stroke="#484848" stroke-width="1.2"/>
<line x1="106.34" y1="515.20" x2="106.34" y2="520.00" stroke="#484848" stroke-width="1.2"/>
<line x1="118.56" y1="515.20" x2="118.56" y2="520.00" stroke="#484848" stroke-width="1.2"/>
<line x1="130.78" y1="515.20" x2="130.78" y2="520.00" stroke="#484848" stroke-width="1.2"/>
<line x1="143.00" y1="515.20" x2="143.00" y2="520.00" stroke="#484848" stroke-width="1.2"/>
<line x1="155.22" y1="515.20" x2="155.22" y2="520.00" stroke="#484848" stroke-width="1.2"/>
<line x1="167.44" y1="515.20" x2="167.44" y2="520.00" stroke="#484848" stroke-width="1.2"/>
<line x1="179.66" y1="515.20" x2="179.66" y2="520.00" stroke="#484848" stroke-width="1.2"/>
<line x1="191.88" y1="515.20" x2="191.88" y2="520.00" stroke="#484848" stroke-width="1.2"/>
<text x="66.07" y="533.00" font-size="12.6" text-anchor="start" fill="#1a1a1a">0</text>
<text x="77.71" y="533.00" font-size="12.6" text-anchor="start" fill="#1a1a1a">1</text>
<text x="90.12" y="533.00" font-size="12.6" text-anchor="start" fill="#1a1a1a">2</text>
<text x="102.34" y="533.00" font-size="12.6" text-anchor="start" fill="#1a1a1a">3</text>
<text x="114.63" y="533.00" font-size="12.6" text-anchor="start" fill="#1a1a1a">4</text>
<text x="126.78" y="533.00" font-size="12.6" text-anchor="start" fill="#1a1a1a">5</text>
<text x="138.94" y="533.00" font-size="12.6" text-anchor="start" fill="#1a1a1a">6</text>
<text x="151.22" y="533.00" font-size="12.6" text-anchor="start" fill="#1a1a1a">7</text>
<text x="163.41" y="533.00" font-size="12.6" text-anchor="start" fill="#1a1a1a">8</text>
<text x="175.66" y="533.00" font-size="12.6" text-anchor="start" fill="#1a1a1a">9</text>
<text x="185.23" y="533.00" font-size="12.6" text-anchor="start" fill="#1a1a1a">10</text>
<text x="43.81" y="433.90" font-size="13.4" text-anchor="start" fill="#1a1a1a">0.6</text>
<text x="43.68" y="462.00" font-size="13.4" text-anchor="start" fill="#1a1a1a">0.4</text>
<text x="43.94" y="490.10" font-size="13.4" text-anchor="start" fill="#1a1a1a">0.2</text>
<text x="51.33" y="518.50" font-size="13.4" text-anchor="start" fill="#1a1a1a">0</text>
<text x="0" y="0" font-size="16" fill="#1a1a1a" transform="translate(37.20 512.64) rotate(-90)">Intensity (F)</text>
<text x="89.57" y="547.90" font-size="15.4" text-anchor="start" fill="#1a1a1a">Observations</text>
<line x1="198.50" y1="433.20" x2="198.50" y2="520.00" stroke="#484848" stroke-width="1.2"/>
<line x1="194.30" y1="433.20" x2="198.50" y2="433.20" stroke="#484848" stroke-width="1.2"/>
<line x1="194.30" y1="460.90" x2="198.50" y2="460.90" stroke="#484848" stroke-width="1.2"/>
<line x1="194.30" y1="488.20" x2="198.50" y2="488.20" stroke="#484848" stroke-width="1.2"/>
<line x1="194.30" y1="515.20" x2="198.50" y2="515.20" stroke="#484848" stroke-width="1.2"/>
<line x1="210.40" y1="515.20" x2="210.40" y2="520.00" stroke="#484848" stroke-width="1.2"/>
<line x1="222.60" y1="515.20" x2="222.60" y2="520.00" stroke="#484848" stroke-width="1.2"/>
<line x1="234.80" y1="515.20" x2="234.80" y2="520.00" stroke="#484848" stroke-width="1.2"/>
<line x1="247.00" y1="515.20" x2="247.00" y2="520.00" stroke="#484848" stroke-width="1.2"/>
<line x1="259.20" y1="515.20" x2="259.20" y2="520.00" stroke="#484848" stroke-width="1.2"/>
<line x1="271.40" y1="515.20" x2="271.40" y2="520.00" stroke="#484848" stroke-width="1.2"/>
<line x1="283.60" y1="515.20" x2="283.60" y2="520.00" stroke="#484848" stroke-width="1.2"/>
<line x1="295.80" y1="515.20" x2="295.80" y2="520.00" stroke="#484848" stroke-width="1.2"/>
<line x1="308.00" y1="515.20" x2="308.00" y2="520.00" stroke="#484848" stroke-width="1.2"/>
<line x1="320.20" y1="515.20" x2="320.20" y2="520.00" stroke="#484848" stroke-width="1.2"/>
<line x1="327.20" y1="431.10" x2="327.20" y2="520.00" stroke="#484848" stroke-width="1.2"/>
<line x1="323.00" y1="431.10" x2="327.20" y2="431.10" stroke="#484848" stroke-width="1.2"/>
<line x1="323.00" y1="459.20" x2="327.20" y2="459.20" stroke="#484848" stroke-width="1.2"/>
<line x1="323.00" y1="486.90" x2="327.20" y2="486.90" stroke="#484848" stroke-width="1.2"/>
<line x1="323.00" y1="515.20" x2="327.20" y2="515.20" stroke="#484848" stroke-width="1.2"/>
<line x1="338.90" y1="515.20" x2="338.90" y2="520.00" stroke="#484848" stroke-width="1.2"/>
<line x1="351.12" y1="515.20" x2="351.12" y2="520.00" stroke="#484848" stroke-width="1.2"/>
<line x1="363.34" y1="515.20" x2="363.34" y2="520.00" stroke="#484848" stroke-width="1.2"/>
<line x1="375.56" y1="515.20" x2="375.56" y2="520.00" stroke="#484848" stroke-width="1.2"/>
<line x1="387.78" y1="515.20" x2="387.78" y2="520.00" stroke="#484848" stroke-width="1.2"/>
<line x1="400.00" y1="515.20" x2="400.00" y2="520.00" stroke="#484848" stroke-width="1.2"/>
<line x1="412.22" y1="515.20" x2="412.22" y2="520.00" stroke="#484848" stroke-width="1.2"/>
<line x1="424.44" y1="515.20" x2="424.44" y2="520.00" stroke="#484848" stroke-width="1.2"/>
<line x1="436.66" y1="515.20" x2="436.66" y2="520.00" stroke="#484848" stroke-width="1.2"/>
<line x1="448.88" y1="515.20" x2="448.88" y2="520.00" stroke="#484848" stroke-width="1.2"/>
<line x1="455.20" y1="431.20" x2="455.20" y2="520.00" stroke="#484848" stroke-width="1.2"/>
<line x1="451.00" y1="431.20" x2="455.20" y2="431.20" stroke="#484848" stroke-width="1.2"/>
<line x1="451.00" y1="458.80" x2="455.20" y2="458.80" stroke="#484848" stroke-width="1.2"/>
<line x1="451.00" y1="487.00" x2="455.20" y2="487.00" stroke="#484848" stroke-width="1.2"/>
<line x1="451.00" y1="515.20" x2="455.20" y2="515.20" stroke="#484848" stroke-width="1.2"/>
<line x1="467.40" y1="515.20" x2="467.40" y2="520.00" stroke="#484848" stroke-width="1.2"/>
<line x1="479.65" y1="515.20" x2="479.65" y2="520.00" stroke="#484848" stroke-width="1.2"/>
<line x1="491.90" y1="515.20" x2="491.90" y2="520.00" stroke="#484848" stroke-width="1.2"/>
<line x1="504.15" y1="515.20" x2="504.15" y2="520.00" stroke="#484848" stroke-width="1.2"/>
<line x1="516.40" y1="515.20" x2="516.40" y2="520.00" stroke="#484848" stroke-width="1.2"/>
<line x1="528.65" y1="515.20" x2="528.65" y2="520.00" stroke="#484848" stroke-width="1.2"/>
<line x1="540.90" y1="515.20" x2="540.90" y2="520.00" stroke="#484848" stroke-width="1.2"/>
<line x1="553.15" y1="515.20" x2="553.15" y2="520.00" stroke="#484848" stroke-width="1.2"/>
<line x1="565.40" y1="515.20" x2="565.40" y2="520.00" stroke="#484848" stroke-width="1.2"/>
<line x1="577.65" y1="515.20" x2="577.65" y2="520.00" stroke="#484848" stroke-width="1.2"/>
<polyline points="82.00,448.30 87.49,450.92 92.98,453.48 98.47,455.99 103.96,458.44 109.45,460.84 114.94,463.18 120.43,465.47 125.92,467.70 131.41,469.88 136.90,472.00 142.39,474.07 147.88,476.08 153.37,478.04 158.86,479.94 164.35,481.79 169.84,483.58 175.33,485.32 180.82,487.00 186.31,488.63 191.80,490.20" fill="none" stroke="#999999" stroke-width="2.2" stroke-linejoin="round"/>
<line x1="82.30" y1="482.80" x2="185.40" y2="496.80" stroke="#111" stroke-width="2.3" stroke-dasharray="7.5 8.3"/>
<line x1="81.80" y1="448.40" x2="192.40" y2="469.60" stroke="#111" stroke-width="2.2"/>
<circle cx="81.90" cy="448.40" r="2.7" fill="#d6382b"/>
<circle cx="94.12" cy="450.50" r="2.7" fill="#d6382b"/>
<circle cx="106.34" cy="453.30" r="2.7" fill="#d6382b"/>
<circle cx="118.56" cy="455.20" r="2.7" fill="#d6382b"/>
<circle cx="130.78" cy="458.50" r="2.7" fill="#d6382b"/>
<circle cx="143.00" cy="460.90" r="2.7" fill="#d6382b"/>
<circle cx="155.22" cy="463.20" r="2.7" fill="#d6382b"/>
<circle cx="167.44" cy="465.70" r="2.7" fill="#d6382b"/>
<circle cx="179.66" cy="468.50" r="2.7" fill="#d6382b"/>
<circle cx="191.88" cy="470.80" r="2.7" fill="#d6382b"/>
<polyline points="210.40,491.30 215.89,489.18 221.38,487.00 226.87,484.77 232.36,482.50 237.85,480.18 243.34,477.80 248.83,475.38 254.32,472.90 259.81,470.38 265.30,467.80 270.79,465.18 276.28,462.50 281.77,459.77 287.26,457.00 292.75,454.18 298.24,451.30 303.73,448.38 309.22,445.40 314.71,442.38 320.20,439.30" fill="none" stroke="#999999" stroke-width="2.2" stroke-linejoin="round"/>
<line x1="211.00" y1="498.70" x2="313.90" y2="484.50" stroke="#111" stroke-width="2.3" stroke-dasharray="7.5 8.3"/>
<line x1="210.40" y1="491.30" x2="320.50" y2="475.50" stroke="#111" stroke-width="2.2"/>
<circle cx="210.40" cy="491.30" r="2.7" fill="#d6382b"/>
<circle cx="222.60" cy="490.00" r="2.7" fill="#d6382b"/>
<circle cx="234.80" cy="487.90" r="2.7" fill="#d6382b"/>
<circle cx="247.00" cy="486.40" r="2.7" fill="#d6382b"/>
<circle cx="259.20" cy="484.50" r="2.7" fill="#d6382b"/>
<circle cx="271.40" cy="483.10" r="2.7" fill="#d6382b"/>
<circle cx="283.60" cy="481.20" r="2.7" fill="#d6382b"/>
<circle cx="295.80" cy="479.10" r="2.7" fill="#d6382b"/>
<circle cx="308.00" cy="477.60" r="2.7" fill="#d6382b"/>
<circle cx="320.20" cy="475.50" r="2.7" fill="#d6382b"/>
<polyline points="338.80,479.70 344.28,478.70 349.76,477.76 355.24,476.87 360.72,476.02 366.20,475.23 371.68,474.48 377.16,473.79 382.64,473.14 388.12,472.54 393.60,472.00 399.08,471.50 404.56,471.06 410.04,470.67 415.52,470.32 421.00,470.02 426.48,469.78 431.96,469.59 437.44,469.44 442.92,469.34 448.40,469.30" fill="none" stroke="#999999" stroke-width="2.2" stroke-linejoin="round"/>
<line x1="339.30" y1="497.90" x2="442.70" y2="483.10" stroke="#111" stroke-width="2.3" stroke-dasharray="7.5 8.3"/>
<line x1="338.80" y1="479.70" x2="449.00" y2="490.70" stroke="#111" stroke-width="2.2"/>
<circle cx="338.90" cy="479.70" r="2.7" fill="#d6382b"/>
<circle cx="351.12" cy="481.20" r="2.7" fill="#d6382b"/>
<circle cx="363.34" cy="482.60" r="2.7" fill="#d6382b"/>
<circle cx="375.56" cy="483.90" r="2.7" fill="#d6382b"/>
<circle cx="387.78" cy="485.20" r="2.7" fill="#d6382b"/>
<circle cx="400.00" cy="486.00" r="2.7" fill="#d6382b"/>
<circle cx="412.22" cy="487.10" r="2.7" fill="#d6382b"/>
<circle cx="424.44" cy="488.80" r="2.7" fill="#d6382b"/>
<circle cx="436.66" cy="490.20" r="2.7" fill="#d6382b"/>
<circle cx="448.88" cy="490.70" r="2.7" fill="#d6382b"/>
<polyline points="467.30,469.50 472.75,469.53 478.21,469.62 483.67,469.75 489.12,469.94 494.57,470.18 500.03,470.46 505.49,470.80 510.94,471.18 516.39,471.61 521.85,472.10 527.30,472.63 532.76,473.22 538.22,473.86 543.67,474.54 549.12,475.27 554.58,476.06 560.03,476.90 565.49,477.78 570.94,478.71 576.40,479.70" fill="none" stroke="#999999" stroke-width="2.2" stroke-linejoin="round"/>
<line x1="467.30" y1="483.10" x2="570.70" y2="497.40" stroke="#111" stroke-width="2.3" stroke-dasharray="7.5 8.3"/>
<line x1="467.30" y1="469.50" x2="576.40" y2="448.40" stroke="#111" stroke-width="2.2"/>
<circle cx="467.40" cy="469.50" r="2.7" fill="#d6382b"/>
<circle cx="479.65" cy="467.40" r="2.7" fill="#d6382b"/>
<circle cx="491.90" cy="465.10" r="2.7" fill="#d6382b"/>
<circle cx="504.15" cy="462.40" r="2.7" fill="#d6382b"/>
<circle cx="516.40" cy="460.40" r="2.7" fill="#d6382b"/>
<circle cx="528.65" cy="458.50" r="2.7" fill="#d6382b"/>
<circle cx="540.90" cy="456.20" r="2.7" fill="#d6382b"/>
<circle cx="553.15" cy="454.10" r="2.7" fill="#d6382b"/>
<circle cx="565.40" cy="452.40" r="2.7" fill="#d6382b"/>
<circle cx="577.65" cy="451.30" r="2.7" fill="#d6382b"/>
<line x1="587.30" y1="440.60" x2="609.50" y2="440.60" stroke="#111" stroke-width="2.0" stroke-dasharray="4 2.2"/>
<text x="613.93" y="444.60" font-size="13.4" text-anchor="start" fill="#1a1a1a">Background</text>
<line x1="588.20" y1="460.10" x2="610.60" y2="460.10" stroke="#111" stroke-width="2.2"/>
<text x="614.89" y="464.70" font-size="13.4" text-anchor="start" fill="#1a1a1a">Injected</text>
<line x1="588.20" y1="482.90" x2="611.00" y2="482.90" stroke="#9a9a9a" stroke-width="2.0"/>
<text x="616.80" y="488.40" font-size="13.4" text-anchor="start" fill="#1a1a1a">Observed</text>
<circle cx="599.5" cy="505.7" r="2.8" fill="#d6382b"/>
<text x="615.03" y="509.70" font-size="13.4" text-anchor="start" fill="#1a1a1a">Recovered</text>
</svg></body></html>
